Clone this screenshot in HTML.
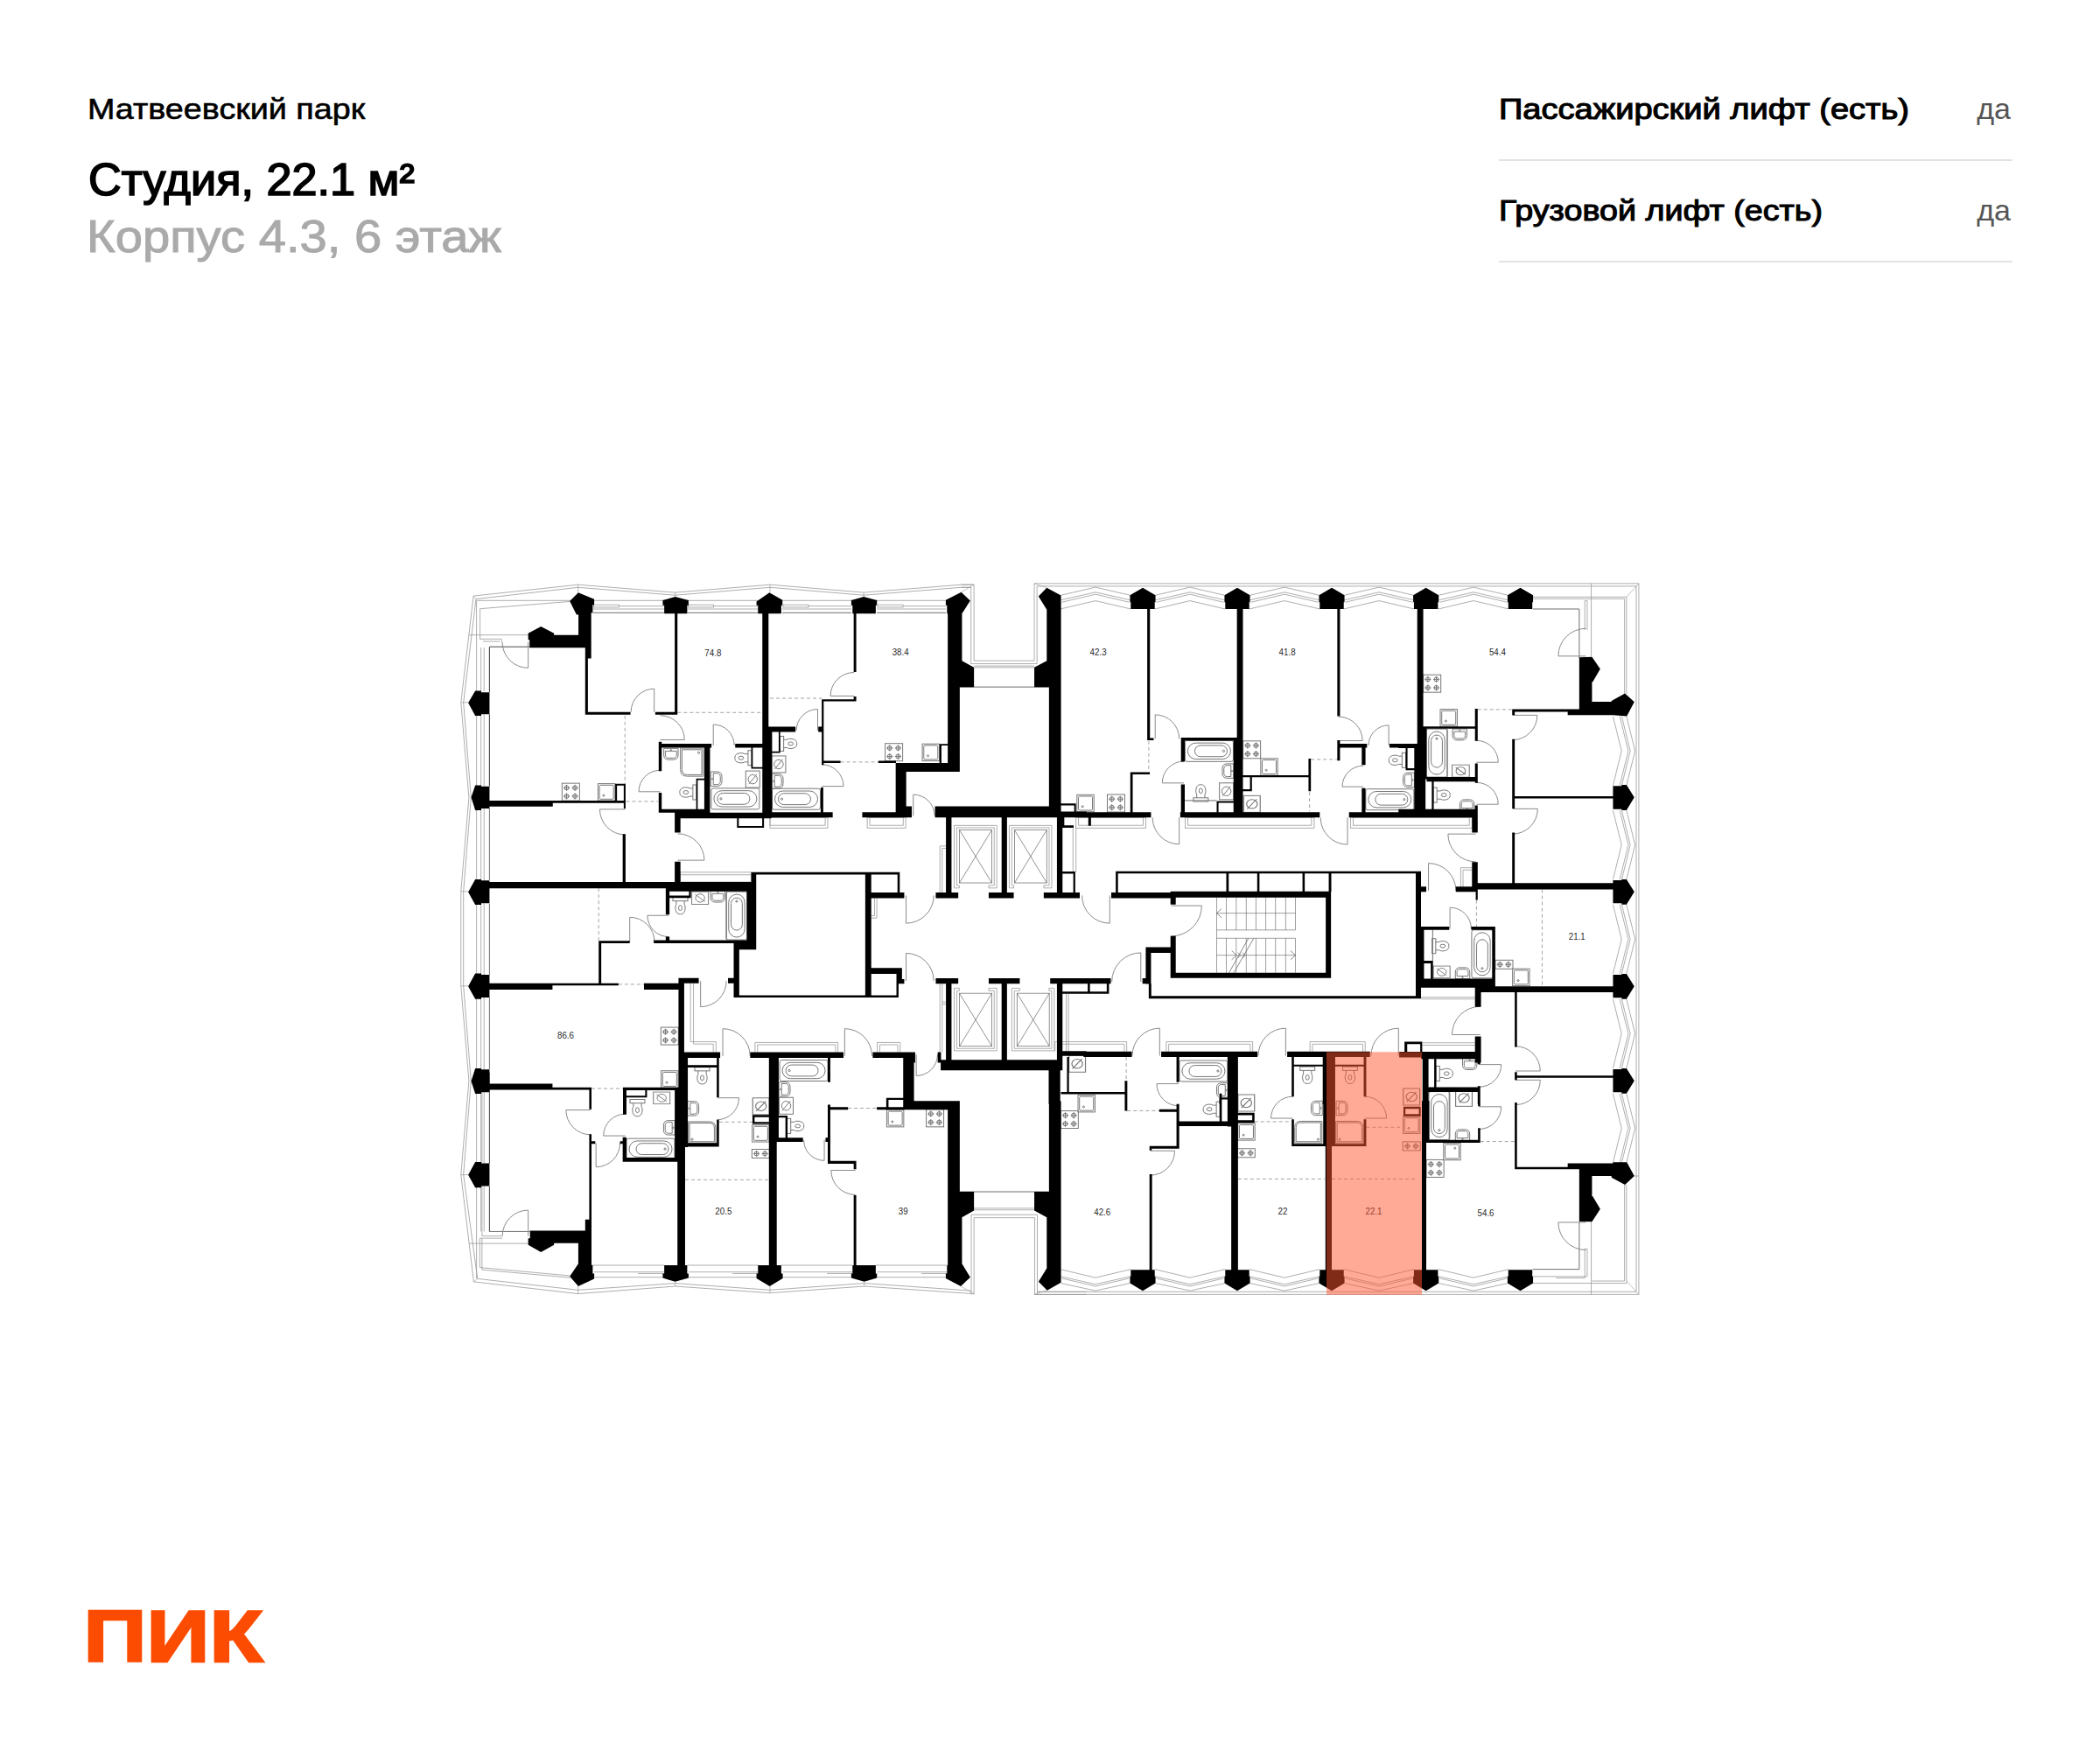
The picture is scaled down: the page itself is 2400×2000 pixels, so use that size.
<!DOCTYPE html>
<html lang="ru">
<head>
<meta charset="utf-8">
<title>Матвеевский парк — Студия, 22.1 м²</title>
<style>
html,body{margin:0;padding:0;background:#fff;}
body{width:2400px;height:2000px;position:relative;overflow:hidden;font-family:"Liberation Sans",sans-serif;color:#000;}
.t{position:absolute;white-space:nowrap;line-height:1;transform-origin:0 0;}
#proj{left:100px;top:107px;font-size:34px;font-weight:400;-webkit-text-stroke:0.6px #000;transform:scaleX(1.109);}
#title{left:101px;top:179px;font-size:52px;font-weight:400;-webkit-text-stroke:1.7px #000;transform:scaleX(1.004);}
#sub{left:99px;top:244px;font-size:52px;font-weight:400;color:#aaa;-webkit-text-stroke:1px #aaa;transform:scaleX(1.08);}
.row{position:absolute;left:1713px;width:587px;height:116px;border-bottom:2px solid #e2e2e2;box-sizing:border-box;}
.row .k{position:absolute;left:0;top:40px;font-size:33px;font-weight:400;-webkit-text-stroke:1.1px #000;transform:scaleX(1.153);line-height:1;white-space:nowrap;transform-origin:0 0;}
.row .v{position:absolute;right:2px;top:39px;font-size:34px;color:#555;line-height:1;}
#r1{top:68px;}
#r2{top:184px;}
#logo{position:absolute;left:100px;top:1840px;}
</style>
</head>
<body>
<div id="proj" class="t">Матвеевский парк</div>
<div id="title" class="t">Студия, 22.1 м²</div>
<div id="sub" class="t">Корпус 4.3, 6 этаж</div>
<div id="r1" class="row"><span class="k">Пассажирский лифт (есть)</span><span class="v">да</span></div>
<div id="r2" class="row"><span class="k" style="transform:scaleX(1.141)">Грузовой лифт (есть)</span><span class="v">да</span></div>
<svg width="2400" height="2000" viewBox="0 0 2400 2000" style="position:absolute;left:0;top:0" font-family="'Liberation Sans', sans-serif">
<defs>
<g id="stove"><rect x="-10" y="-10" width="20" height="20"/><circle cx="-4.8" cy="-4.8" r="2.5"/><circle cx="4.8" cy="-4.8" r="2.5"/><circle cx="-4.8" cy="4.8" r="2.5"/><circle cx="4.8" cy="4.8" r="2.5"/><path d="M-8.3,-4.8h7M1.3,-4.8h7M-8.3,4.8h7M1.3,4.8h7M-4.8,-8.3v7M4.8,-8.3v7M-4.8,1.3v7M4.8,1.3v7"/></g>
<g id="stove2"><rect x="-10" y="-5" width="20" height="10"/><circle cx="-4.8" cy="0" r="2.5"/><circle cx="4.8" cy="0" r="2.5"/><path d="M-8.3,0h7M1.3,0h7M-4.8,-3.5v7M4.8,-3.5v7"/></g>
<g id="ksink"><rect x="-9.7" y="-9.7" width="19.4" height="19.4"/><rect x="-8" y="-8" width="16" height="16" rx="1.2"/><circle cx="-3.3" cy="3.8" r="1"/></g>
<g id="washer"><rect x="-8" y="-9.5" width="16" height="19"/><circle cx="0" cy="0" r="5.2"/><path d="M-4.6,5.6L4.6,-5.6"/></g>
<g id="toilet"><rect x="-8.5" y="-10" width="17" height="4.2"/><path d="M-4.6,-5.8V-2C-6.2,0.5 -6,4.6 -4.2,7.4C-2.6,9.9 2.6,9.9 4.2,7.4C6,4.6 6.2,0.5 4.6,-2V-5.8"/><ellipse cx="0" cy="2.2" rx="2" ry="2.9"/></g>
<g id="sink"><path d="M-8.2,-6.4H8.2V1.2C8.2,4.6 6,6.4 3,6.4H-3C-6,6.4 -8.2,4.6 -8.2,1.2Z"/><path d="M-6.4,-3.4H6.4V1C6.4,3.4 4.8,4.6 2.6,4.6H-2.6C-4.8,4.6 -6.4,3.4 -6.4,1Z"/><circle cx="0" cy="-4.6" r="0.7"/></g>
<g id="bath"><rect x="-27.5" y="-12" width="55" height="24" rx="2.2"/><rect x="-24.5" y="-9.2" width="49" height="18.4" rx="9.2"/><rect x="-20.5" y="-6.4" width="37" height="12.8" rx="6.4"/><circle cx="-16.5" cy="0" r="1.1"/></g>
</defs>

<g fill="none" stroke-linecap="butt" stroke-linejoin="miter">
<polyline points="605.2,739.2 559.43,739.2 559.43,791.14" stroke="#4a4a4a" stroke-width="1.0"/>
<polyline points="559.43,816.34 559.43,898.63" stroke="#4a4a4a" stroke-width="1.0"/>
<polyline points="714.23,817.71 714.23,895.71" stroke="#4a4a4a" stroke-width="1.0" stroke-dasharray="4 3" stroke-opacity="0.5"/>
<polyline points="774.23,814.29 869.71,814.29" stroke="#4a4a4a" stroke-width="1.0" stroke-dasharray="4 3" stroke-opacity="0.5"/>
<polyline points="715.43,915.94 752.29,915.94" stroke="#4a4a4a" stroke-width="1.0" stroke-dasharray="4 3" stroke-opacity="0.5"/>
<path d="M603.66,733.71 L603.66,763.37 A29.66,29.66 0 0 1 574.0,733.71" stroke="#8a8a8a" stroke-width="1.0"/>
<path d="M747.66,813.77 L747.66,787.2 A26.57,26.57 0 0 0 721.09,813.77" stroke="#8a8a8a" stroke-width="1.0"/>
<path d="M754.51,845.49 L782.29,845.49 A27.78,27.78 0 0 0 754.51,817.71" stroke="#8a8a8a" stroke-width="1.0"/>
<path d="M815.2,852.0 L815.2,828.0 A24.0,24.0 0 0 1 839.2,852.0" stroke="#8a8a8a" stroke-width="1.0"/>
<path d="M754.51,904.8 L730.0,904.8 A24.51,24.51 0 0 1 754.51,880.29" stroke="#8a8a8a" stroke-width="1.0"/>
<path d="M714.57,924.86 L685.43,924.86 A29.14,29.14 0 0 0 714.57,954.0" stroke="#8a8a8a" stroke-width="1.0"/>
<path d="M777.66,855.09 H803.71 V887.14 H785.37 Q777.66,887.14 777.66,879.43 Z" stroke="#777" stroke-width="1"/>
<path d="M779.37,856.8 H802.0 V885.43 H785.37 Q779.37,885.43 779.37,879.43 Z" stroke="#777" stroke-width="1"/>
<circle cx="798.57" cy="860.23" r="1.1" stroke="#777" stroke-width="1"/>
<path d="M976.0,795.43 L949.09,795.43 A26.91,26.91 0 0 1 976.0,768.52" stroke="#8a8a8a" stroke-width="1.0"/>
<path d="M934.51,834.86 L934.51,810.51 A24.35,24.35 0 0 0 910.16,834.86" stroke="#8a8a8a" stroke-width="1.0"/>
<path d="M939.14,898.63 L964.0,898.63 A24.86,24.86 0 0 0 939.14,873.77" stroke="#8a8a8a" stroke-width="1.0"/>
<path d="M1043.71,932.57 L1043.71,908.06 A24.51,24.51 0 0 1 1068.22,932.57" stroke="#8a8a8a" stroke-width="1.0"/>
<polyline points="880.0,798.0 939.14,798.0" stroke="#4a4a4a" stroke-width="1.0" stroke-dasharray="4 3" stroke-opacity="0.5"/>
<polyline points="960.57,870.86 1003.77,870.86" stroke="#4a4a4a" stroke-width="1.0" stroke-dasharray="4 3" stroke-opacity="0.5"/>
<polyline points="1098.57,668.23 1113.14,668.23 1113.14,755.14 1182.06,755.14 1182.06,666.86" stroke="#999" stroke-width="0.8"/>
<polyline points="1098.57,671.31 1109.71,671.31 1109.71,758.57 1185.14,758.57 1185.14,669.94" stroke="#999" stroke-width="0.8"/>
<polyline points="1113.14,762.86 1182.06,762.86" stroke="#999" stroke-width="0.8"/>
<polyline points="1113.14,761.14 1182.06,761.14" stroke="#999" stroke-width="0.8"/>
<polyline points="1096.86,785.14 1198.86,785.14" stroke="#4a4a4a" stroke-width="0.8"/>
<polyline points="1098.57,676.8 1113.14,668.23" stroke="#999" stroke-width="0.6"/>
<polyline points="1196.29,671.66 1182.06,666.86" stroke="#999" stroke-width="0.6"/>
<rect x="880.0" y="934.29" width="66.0" height="12.0" fill="none" stroke="#999" stroke-width="0.8"/>
<rect x="880.0" y="934.29" width="63.09" height="8.91" fill="none" stroke="#999" stroke-width="0.8"/>
<rect x="991.09" y="934.29" width="44.05" height="12.0" fill="none" stroke="#999" stroke-width="0.8"/>
<rect x="994.0" y="934.29" width="38.23" height="8.91" fill="none" stroke="#999" stroke-width="0.8"/>
<polyline points="1212.57,680.23 1252.0,671.14 1291.43,680.23" stroke="#777" stroke-width="0.6"/>
<polyline points="1212.57,685.71 1252.0,676.8 1291.43,685.71" stroke="#777" stroke-width="0.6"/>
<polyline points="1213.43,688.29 1252.0,679.2 1290.57,688.29" stroke="#777" stroke-width="0.6"/>
<polyline points="1211.71,696.0 1252.0,686.57 1292.29,696.0" stroke="#777" stroke-width="0.6"/>
<polyline points="1320.57,680.23 1360.0,671.14 1399.43,680.23" stroke="#777" stroke-width="0.6"/>
<polyline points="1320.57,685.71 1360.0,676.8 1399.43,685.71" stroke="#777" stroke-width="0.6"/>
<polyline points="1321.43,688.29 1360.0,679.2 1398.57,688.29" stroke="#777" stroke-width="0.6"/>
<polyline points="1319.71,696.0 1360.0,686.57 1400.29,696.0" stroke="#777" stroke-width="0.6"/>
<polyline points="1428.57,680.23 1468.0,671.14 1507.43,680.23" stroke="#777" stroke-width="0.6"/>
<polyline points="1428.57,685.71 1468.0,676.8 1507.43,685.71" stroke="#777" stroke-width="0.6"/>
<polyline points="1429.43,688.29 1468.0,679.2 1506.57,688.29" stroke="#777" stroke-width="0.6"/>
<polyline points="1427.71,696.0 1468.0,686.57 1508.29,696.0" stroke="#777" stroke-width="0.6"/>
<polyline points="1536.57,680.23 1576.0,671.14 1615.43,680.23" stroke="#777" stroke-width="0.6"/>
<polyline points="1536.57,685.71 1576.0,676.8 1615.43,685.71" stroke="#777" stroke-width="0.6"/>
<polyline points="1537.43,688.29 1576.0,679.2 1614.57,688.29" stroke="#777" stroke-width="0.6"/>
<polyline points="1535.71,696.0 1576.0,686.57 1616.29,696.0" stroke="#777" stroke-width="0.6"/>
<polyline points="1644.57,680.23 1684.0,671.14 1723.43,680.23" stroke="#777" stroke-width="0.6"/>
<polyline points="1644.57,685.71 1684.0,676.8 1723.43,685.71" stroke="#777" stroke-width="0.6"/>
<polyline points="1645.43,688.29 1684.0,679.2 1722.57,688.29" stroke="#777" stroke-width="0.6"/>
<polyline points="1643.71,696.0 1684.0,686.57 1724.29,696.0" stroke="#777" stroke-width="0.6"/>
<path d="M1320.23,844.29 L1320.23,816.86 A27.43,27.43 0 0 1 1347.66,844.29" stroke="#8a8a8a" stroke-width="1.0"/>
<path d="M1353.14,894.86 L1328.29,894.86 A24.85,24.85 0 0 1 1353.14,870.01" stroke="#8a8a8a" stroke-width="1.0"/>
<path d="M1347.66,934.29 L1347.66,964.8 A30.51,30.51 0 0 1 1317.15,934.29" stroke="#8a8a8a" stroke-width="1.0"/>
<path d="M1529.71,846.51 L1557.14,846.51 A27.43,27.43 0 0 0 1529.71,819.08" stroke="#8a8a8a" stroke-width="1.0"/>
<path d="M1587.14,852.0 L1587.14,828.86 A23.14,23.14 0 0 0 1564.0,852.0" stroke="#8a8a8a" stroke-width="1.0"/>
<path d="M1558.0,899.14 L1534.0,899.14 A24.0,24.0 0 0 1 1558.0,875.14" stroke="#8a8a8a" stroke-width="1.0"/>
<path d="M1540.0,934.29 L1540.0,965.14 A30.85,30.85 0 0 1 1509.15,934.29" stroke="#8a8a8a" stroke-width="1.0"/>
<polyline points="1354.0,914.91 1390.51,914.91" stroke="#4a4a4a" stroke-width="0.8"/>
<polyline points="1312.86,846.86 1312.86,882.51" stroke="#4a4a4a" stroke-width="1.0" stroke-dasharray="4 3" stroke-opacity="0.5"/>
<polyline points="1498.17,867.94 1528.34,867.94" stroke="#4a4a4a" stroke-width="1.0" stroke-dasharray="4 3" stroke-opacity="0.5"/>
<polyline points="1496.63,905.14 1496.63,927.43" stroke="#4a4a4a" stroke-width="1.0" stroke-dasharray="4 3" stroke-opacity="0.5"/>
<rect x="1229.71" y="934.29" width="79.72" height="12.0" fill="none" stroke="#999" stroke-width="0.8"/>
<rect x="1232.63" y="934.29" width="73.88" height="8.91" fill="none" stroke="#999" stroke-width="0.8"/>
<polyline points="1226.29,946.11 1226.29,996.86" stroke="#999" stroke-width="0.8"/>
<polyline points="1229.71,946.11 1229.71,996.86" stroke="#999" stroke-width="0.8"/>
<rect x="1354.51" y="934.29" width="147.43" height="12.0" fill="none" stroke="#999" stroke-width="0.8"/>
<rect x="1357.43" y="934.29" width="141.43" height="8.91" fill="none" stroke="#999" stroke-width="0.8"/>
<polyline points="1182.06,666.86 1872.91,666.86 1872.91,1479.43" stroke="#999" stroke-width="0.8"/>
<polyline points="1185.14,669.94 1870.0,669.94 1870.0,1476.34" stroke="#999" stroke-width="0.8"/>
<polyline points="1872.91,666.86 1858.86,682.29" stroke="#999" stroke-width="0.6"/>
<polyline points="1751.71,682.29 1858.86,682.29 1858.86,792.86" stroke="#999" stroke-width="0.8"/>
<polyline points="1751.71,684.34 1856.63,684.34 1856.63,792.86" stroke="#999" stroke-width="0.8"/>
<polyline points="1818.57,666.86 1818.57,750.34" stroke="#999" stroke-width="0.8"/>
<polyline points="1751.71,696.0 1804.86,696.0 1804.86,752.06" stroke="#4a4a4a" stroke-width="0.8"/>
<polyline points="1811.2,720.0 1811.2,686.57 1813.94,686.57 1813.94,720.0" stroke="#999" stroke-width="0.8"/>
<polyline points="1843.43,818.57 1853.2,858.17 1843.43,897.77" stroke="#777" stroke-width="0.6"/>
<polyline points="1851.14,818.57 1860.91,858.17 1851.14,897.77" stroke="#777" stroke-width="0.6"/>
<polyline points="1853.37,818.57 1863.14,858.17 1853.37,897.77" stroke="#777" stroke-width="0.6"/>
<polyline points="1858.86,818.57 1868.63,858.17 1858.86,897.77" stroke="#777" stroke-width="0.6"/>
<path d="M1812.4,749.83 L1780.86,749.83 A31.54,31.54 0 0 1 1812.4,718.29" stroke="#8a8a8a" stroke-width="1.0"/>
<path d="M1687.43,871.2 L1712.29,871.2 A24.86,24.86 0 0 0 1687.43,846.34" stroke="#8a8a8a" stroke-width="1.0"/>
<path d="M1687.43,919.2 L1712.29,919.2 A24.86,24.86 0 0 0 1687.43,894.34" stroke="#8a8a8a" stroke-width="1.0"/>
<path d="M1728.57,817.37 L1756.86,817.37 A28.29,28.29 0 0 1 1728.57,845.66" stroke="#8a8a8a" stroke-width="1.0"/>
<path d="M1728.57,924.34 L1757.37,924.34 A28.8,28.8 0 0 1 1728.57,953.14" stroke="#8a8a8a" stroke-width="1.0"/>
<polyline points="1654.0,833.14 1654.0,888.0" stroke="#4a4a4a" stroke-width="0.8"/>
<polyline points="1688.8,810.86 1728.23,810.86" stroke="#4a4a4a" stroke-width="1.0" stroke-dasharray="4 3" stroke-opacity="0.5"/>
<rect x="1543.43" y="934.29" width="138.86" height="12.0" fill="none" stroke="#999" stroke-width="0.8"/>
<rect x="1546.51" y="934.29" width="132.69" height="8.91" fill="none" stroke="#999" stroke-width="0.8"/>
<rect x="777.66" y="996.86" width="80.91" height="11.14" fill="none" stroke="#999" stroke-width="0.8"/>
<polyline points="777.66,999.77 858.57,999.77" stroke="#999" stroke-width="0.8"/>
<polyline points="789.14,1123.71 789.14,1190.57 818.29,1190.57 818.29,1202.57" stroke="#999" stroke-width="0.8"/>
<polyline points="792.57,1123.71 792.57,1193.14 815.2,1193.14 815.2,1202.57" stroke="#999" stroke-width="0.8"/>
<polyline points="684.23,1015.2 684.23,1075.2" stroke="#4a4a4a" stroke-width="1.0" stroke-dasharray="4 3" stroke-opacity="0.5"/>
<polyline points="706.86,1124.91 736.0,1124.91" stroke="#4a4a4a" stroke-width="1.0" stroke-dasharray="4 3" stroke-opacity="0.5"/>
<polyline points="676.0,1244.06 712.0,1244.06" stroke="#4a4a4a" stroke-width="1.0" stroke-dasharray="4 3" stroke-opacity="0.5"/>
<path d="M774.57,983.14 L804.91,983.14 A30.34,30.34 0 0 0 774.57,952.8" stroke="#8a8a8a" stroke-width="1.0"/>
<path d="M719.71,1076.57 L719.71,1048.29 A28.28,28.28 0 0 1 747.99,1076.57" stroke="#8a8a8a" stroke-width="1.0"/>
<path d="M764.29,1046.23 L739.94,1046.23 A24.35,24.35 0 0 0 764.29,1070.58" stroke="#8a8a8a" stroke-width="1.0"/>
<path d="M800.63,1121.14 L800.63,1150.63 A29.49,29.49 0 0 0 830.12,1121.14" stroke="#8a8a8a" stroke-width="1.0"/>
<path d="M826.0,1206.86 L826.0,1175.66 A31.2,31.2 0 0 1 857.2,1206.86" stroke="#8a8a8a" stroke-width="1.0"/>
<polyline points="830.29,1019.14 830.29,1074.0" stroke="#4a4a4a" stroke-width="0.8"/>
<polyline points="1096.34,1014.86 1090.51,1014.86 1090.51,943.37 1139.2,943.37 1139.2,1014.86 1129.94,1014.86" stroke="#999" stroke-width="0.8"/>
<polyline points="1096.34,1011.94 1093.43,1011.94 1093.43,945.94 1136.29,945.94 1136.29,1011.94 1129.94,1011.94" stroke="#999" stroke-width="0.8"/>
<polyline points="1096.34,1014.86 1096.34,1011.94" stroke="#999" stroke-width="0.8"/>
<polyline points="1129.94,1014.86 1129.94,1011.94" stroke="#999" stroke-width="0.8"/>
<rect x="1096.51" y="948.51" width="37.03" height="60.52" fill="none" stroke="#4a4a4a" stroke-width="0.8" stroke-opacity="0.75"/>
<polyline points="1096.51,948.51 1133.54,1009.03" stroke="#4a4a4a" stroke-width="0.8" stroke-opacity="0.75"/>
<polyline points="1096.51,1009.03 1133.54,948.51" stroke="#4a4a4a" stroke-width="0.8" stroke-opacity="0.75"/>
<polyline points="1158.57,1014.86 1153.43,1014.86 1153.43,943.37 1201.94,943.37 1201.94,1014.86 1192.86,1014.86" stroke="#999" stroke-width="0.8"/>
<polyline points="1158.57,1011.94 1156.34,1011.94 1156.34,945.94 1199.03,945.94 1199.03,1011.94 1192.86,1011.94" stroke="#999" stroke-width="0.8"/>
<polyline points="1158.57,1014.86 1158.57,1011.94" stroke="#999" stroke-width="0.8"/>
<polyline points="1192.86,1014.86 1192.86,1011.94" stroke="#999" stroke-width="0.8"/>
<rect x="1159.43" y="948.51" width="36.86" height="60.52" fill="none" stroke="#4a4a4a" stroke-width="0.8" stroke-opacity="0.75"/>
<polyline points="1159.43,948.51 1196.29,1009.03" stroke="#4a4a4a" stroke-width="0.8" stroke-opacity="0.75"/>
<polyline points="1159.43,1009.03 1196.29,948.51" stroke="#4a4a4a" stroke-width="0.8" stroke-opacity="0.75"/>
<polyline points="1096.34,1129.37 1090.51,1129.37 1090.51,1200.86 1139.2,1200.86 1139.2,1129.37 1129.94,1129.37" stroke="#999" stroke-width="0.8"/>
<polyline points="1096.34,1132.29 1093.43,1132.29 1093.43,1198.29 1136.29,1198.29 1136.29,1132.29 1129.94,1132.29" stroke="#999" stroke-width="0.8"/>
<polyline points="1096.34,1129.37 1096.34,1132.29" stroke="#999" stroke-width="0.8"/>
<polyline points="1129.94,1129.37 1129.94,1132.29" stroke="#999" stroke-width="0.8"/>
<rect x="1096.51" y="1135.2" width="37.03" height="60.51" fill="none" stroke="#4a4a4a" stroke-width="0.8" stroke-opacity="0.75"/>
<polyline points="1096.51,1135.2 1133.54,1195.71" stroke="#4a4a4a" stroke-width="0.8" stroke-opacity="0.75"/>
<polyline points="1096.51,1195.71 1133.54,1135.2" stroke="#4a4a4a" stroke-width="0.8" stroke-opacity="0.75"/>
<polyline points="1165.43,1129.37 1156.34,1129.37 1156.34,1200.86 1204.86,1200.86 1204.86,1129.37 1198.86,1129.37" stroke="#999" stroke-width="0.8"/>
<polyline points="1165.43,1132.29 1159.26,1132.29 1159.26,1198.29 1201.94,1198.29 1201.94,1132.29 1198.86,1132.29" stroke="#999" stroke-width="0.8"/>
<polyline points="1165.43,1129.37 1165.43,1132.29" stroke="#999" stroke-width="0.8"/>
<polyline points="1198.86,1129.37 1198.86,1132.29" stroke="#999" stroke-width="0.8"/>
<rect x="1162.34" y="1135.2" width="36.86" height="60.51" fill="none" stroke="#4a4a4a" stroke-width="0.8" stroke-opacity="0.75"/>
<polyline points="1162.34,1135.2 1199.2,1195.71" stroke="#4a4a4a" stroke-width="0.8" stroke-opacity="0.75"/>
<polyline points="1162.34,1195.71 1199.2,1135.2" stroke="#4a4a4a" stroke-width="0.8" stroke-opacity="0.75"/>
<polyline points="1074.23,1020.0 1074.23,966.86 1081.09,966.86" stroke="#999" stroke-width="0.8"/>
<polyline points="1076.8,1020.0 1076.8,969.43 1081.09,969.43" stroke="#999" stroke-width="0.8"/>
<polyline points="1074.23,1124.23 1074.23,1202.57" stroke="#999" stroke-width="0.8"/>
<polyline points="1076.8,1124.23 1076.8,1202.57" stroke="#999" stroke-width="0.8"/>
<polyline points="1076.8,1147.71 1081.09,1147.71" stroke="#999" stroke-width="0.8"/>
<polyline points="1076.8,1145.14 1081.09,1145.14" stroke="#999" stroke-width="0.8"/>
<polyline points="995.71,1049.14 1002.06,1049.14 1002.06,1026.51" stroke="#999" stroke-width="0.8"/>
<polyline points="995.71,1046.57 999.49,1046.57 999.49,1026.51" stroke="#999" stroke-width="0.8"/>
<polyline points="862.86,1202.57 862.86,1191.43 957.66,1191.43 957.66,1202.57" stroke="#999" stroke-width="0.8"/>
<polyline points="865.77,1202.57 865.77,1194.0 954.91,1194.0 954.91,1202.57" stroke="#999" stroke-width="0.8"/>
<polyline points="1002.57,1202.57 1002.57,1191.43 1028.8,1191.43 1028.8,1202.57" stroke="#999" stroke-width="0.8"/>
<polyline points="1005.49,1202.57 1005.49,1194.0 1026.06,1194.0 1026.06,1202.57" stroke="#999" stroke-width="0.8"/>
<polyline points="1218.57,1135.71 1218.57,1201.37" stroke="#999" stroke-width="0.8"/>
<polyline points="1221.14,1135.71 1221.14,1201.37" stroke="#999" stroke-width="0.8"/>
<path d="M1035.49,1023.43 L1035.49,1055.14 A31.71,31.71 0 0 0 1067.2,1023.43" stroke="#8a8a8a" stroke-width="1.0"/>
<path d="M1035.49,1121.14 L1035.49,1089.43 A31.71,31.71 0 0 1 1067.2,1121.14" stroke="#8a8a8a" stroke-width="1.0"/>
<path d="M965.37,1206.86 L965.37,1175.66 A31.2,31.2 0 0 1 996.57,1206.86" stroke="#8a8a8a" stroke-width="1.0"/>
<path d="M1047.14,1205.14 L1047.14,1229.49 A24.35,24.35 0 0 0 1071.49,1205.14" stroke="#8a8a8a" stroke-width="1.0"/>
<polyline points="1390.51,1025.66 1390.51,1062.86" stroke="#555" stroke-width="0.7" stroke-opacity="0.8"/>
<polyline points="1390.51,1072.29 1390.51,1111.71" stroke="#555" stroke-width="0.7" stroke-opacity="0.8"/>
<polyline points="1401.49,1025.66 1401.49,1062.86" stroke="#555" stroke-width="0.7" stroke-opacity="0.8"/>
<polyline points="1401.49,1072.29 1401.49,1111.71" stroke="#555" stroke-width="0.7" stroke-opacity="0.8"/>
<polyline points="1412.8,1025.66 1412.8,1062.86" stroke="#555" stroke-width="0.7" stroke-opacity="0.8"/>
<polyline points="1412.8,1072.29 1412.8,1111.71" stroke="#555" stroke-width="0.7" stroke-opacity="0.8"/>
<polyline points="1424.29,1025.66 1424.29,1062.86" stroke="#555" stroke-width="0.7" stroke-opacity="0.8"/>
<polyline points="1424.29,1072.29 1424.29,1111.71" stroke="#555" stroke-width="0.7" stroke-opacity="0.8"/>
<polyline points="1435.43,1025.66 1435.43,1062.86" stroke="#555" stroke-width="0.7" stroke-opacity="0.8"/>
<polyline points="1435.43,1072.29 1435.43,1111.71" stroke="#555" stroke-width="0.7" stroke-opacity="0.8"/>
<polyline points="1446.57,1025.66 1446.57,1062.86" stroke="#555" stroke-width="0.7" stroke-opacity="0.8"/>
<polyline points="1446.57,1072.29 1446.57,1111.71" stroke="#555" stroke-width="0.7" stroke-opacity="0.8"/>
<polyline points="1457.71,1025.66 1457.71,1062.86" stroke="#555" stroke-width="0.7" stroke-opacity="0.8"/>
<polyline points="1457.71,1072.29 1457.71,1111.71" stroke="#555" stroke-width="0.7" stroke-opacity="0.8"/>
<polyline points="1469.37,1025.66 1469.37,1062.86" stroke="#555" stroke-width="0.7" stroke-opacity="0.8"/>
<polyline points="1469.37,1072.29 1469.37,1111.71" stroke="#555" stroke-width="0.7" stroke-opacity="0.8"/>
<polyline points="1480.51,1025.66 1480.51,1062.86" stroke="#555" stroke-width="0.7" stroke-opacity="0.8"/>
<polyline points="1480.51,1072.29 1480.51,1111.71" stroke="#555" stroke-width="0.7" stroke-opacity="0.8"/>
<polyline points="1390.51,1062.86 1390.51,1072.29" stroke="#555" stroke-width="0.7" stroke-opacity="0.8"/>
<polyline points="1390.51,1043.66 1480.51,1043.66" stroke="#555" stroke-width="0.7" stroke-opacity="0.8"/>
<polyline points="1390.51,1062.86 1480.51,1062.86" stroke="#555" stroke-width="0.7" stroke-opacity="0.8"/>
<polyline points="1390.51,1072.29 1480.51,1072.29" stroke="#555" stroke-width="0.7" stroke-opacity="0.8"/>
<polyline points="1390.51,1091.66 1480.51,1091.66" stroke="#555" stroke-width="0.7" stroke-opacity="0.8"/>
<polyline points="1426.86,1072.29 1404.57,1111.71" stroke="#555" stroke-width="0.7"/>
<polyline points="1432.86,1072.29 1410.06,1111.71" stroke="#555" stroke-width="0.7"/>
<polyline points="1396.0,1038.51 1390.51,1043.66 1396.0,1048.8" stroke="#555" stroke-width="0.7"/>
<polyline points="1474.86,1086.51 1480.51,1091.66 1474.86,1096.8" stroke="#555" stroke-width="0.7"/>
<polyline points="1407.66,1086.51 1413.14,1091.66 1407.66,1096.8" stroke="#555" stroke-width="0.7"/>
<polyline points="1414.86,1088.57 1417.94,1091.66 1414.86,1094.74" stroke="#555" stroke-width="0.7"/>
<polyline points="1420.0,1088.57 1423.09,1091.66 1420.0,1094.74" stroke="#555" stroke-width="0.7"/>
<polyline points="1205.71,1201.71 1205.71,1190.57 1287.66,1190.57 1287.66,1201.71" stroke="#999" stroke-width="0.8"/>
<polyline points="1208.46,1201.71 1208.46,1193.31 1284.91,1193.31 1284.91,1201.71" stroke="#999" stroke-width="0.8"/>
<polyline points="1332.91,1201.71 1332.91,1190.57 1431.66,1190.57 1431.66,1201.71" stroke="#999" stroke-width="0.8"/>
<polyline points="1335.66,1201.71 1335.66,1193.31 1428.91,1193.31 1428.91,1201.71" stroke="#999" stroke-width="0.8"/>
<polyline points="1497.14,1201.71 1497.14,1190.57 1560.23,1190.57 1560.23,1201.71" stroke="#999" stroke-width="0.8"/>
<polyline points="1499.89,1201.71 1499.89,1193.31 1557.49,1193.31 1557.49,1201.71" stroke="#999" stroke-width="0.8"/>
<polyline points="1287.14,1208.06 1287.14,1235.14" stroke="#4a4a4a" stroke-width="1.0" stroke-dasharray="4 3" stroke-opacity="0.5"/>
<path d="M1268.29,1023.43 L1268.29,1055.14 A31.71,31.71 0 0 1 1236.58,1023.43" stroke="#8a8a8a" stroke-width="1.0"/>
<path d="M1338.57,1035.09 L1373.37,1035.09 A34.8,34.8 0 0 1 1338.57,1069.89" stroke="#8a8a8a" stroke-width="1.0"/>
<path d="M1303.77,1122.0 L1303.77,1088.91 A33.09,33.09 0 0 0 1270.68,1122.0" stroke="#8a8a8a" stroke-width="1.0"/>
<path d="M1325.37,1206.51 L1325.37,1175.14 A31.37,31.37 0 0 0 1294.0,1206.51" stroke="#8a8a8a" stroke-width="1.0"/>
<path d="M1469.37,1206.51 L1469.37,1175.14 A31.37,31.37 0 0 0 1438.0,1206.51" stroke="#8a8a8a" stroke-width="1.0"/>
<path d="M1598.29,1206.51 L1598.29,1175.14 A31.37,31.37 0 0 0 1566.92,1206.51" stroke="#8a8a8a" stroke-width="1.0"/>
<path d="M1347.14,1238.57 L1321.94,1238.57 A25.2,25.2 0 0 0 1347.14,1263.77" stroke="#8a8a8a" stroke-width="1.0"/>
<polyline points="1637.37,1062.86 1637.37,1098.0" stroke="#4a4a4a" stroke-width="0.8"/>
<polyline points="1669.43,1013.14 1669.43,991.71 1682.29,991.71" stroke="#999" stroke-width="0.8"/>
<polyline points="1672.0,1013.14 1672.0,994.29 1682.29,994.29" stroke="#999" stroke-width="0.8"/>
<polyline points="1624.0,1139.66 1685.71,1139.66" stroke="#999" stroke-width="0.8"/>
<polyline points="1624.0,1141.71 1685.71,1141.71" stroke="#999" stroke-width="0.8"/>
<polyline points="1625.71,1191.77 1685.71,1191.77" stroke="#999" stroke-width="0.8"/>
<polyline points="1625.71,1194.51 1685.71,1194.51" stroke="#999" stroke-width="0.8"/>
<polyline points="1687.43,1028.57 1687.43,1059.09" stroke="#4a4a4a" stroke-width="1.0" stroke-dasharray="4 3" stroke-opacity="0.5"/>
<polyline points="1762.51,1016.57 1762.51,1127.14" stroke="#4a4a4a" stroke-width="1.0" stroke-dasharray="4 3" stroke-opacity="0.5"/>
<polyline points="1843.43,926.06 1853.2,965.66 1843.43,1005.26" stroke="#777" stroke-width="0.6"/>
<polyline points="1851.14,926.06 1860.91,965.66 1851.14,1005.26" stroke="#777" stroke-width="0.6"/>
<polyline points="1853.37,926.06 1863.14,965.66 1853.37,1005.26" stroke="#777" stroke-width="0.6"/>
<polyline points="1858.86,926.06 1868.63,965.66 1858.86,1005.26" stroke="#777" stroke-width="0.6"/>
<polyline points="1843.43,1033.71 1853.2,1073.31 1843.43,1112.91" stroke="#777" stroke-width="0.6"/>
<polyline points="1851.14,1033.71 1860.91,1073.31 1851.14,1112.91" stroke="#777" stroke-width="0.6"/>
<polyline points="1853.37,1033.71 1863.14,1073.31 1853.37,1112.91" stroke="#777" stroke-width="0.6"/>
<polyline points="1858.86,1033.71 1868.63,1073.31 1858.86,1112.91" stroke="#777" stroke-width="0.6"/>
<polyline points="1843.43,1141.71 1853.2,1181.31 1843.43,1220.91" stroke="#777" stroke-width="0.6"/>
<polyline points="1851.14,1141.71 1860.91,1181.31 1851.14,1220.91" stroke="#777" stroke-width="0.6"/>
<polyline points="1853.37,1141.71 1863.14,1181.31 1853.37,1220.91" stroke="#777" stroke-width="0.6"/>
<polyline points="1858.86,1141.71 1868.63,1181.31 1858.86,1220.91" stroke="#777" stroke-width="0.6"/>
<polyline points="1843.43,1249.71 1853.2,1289.31 1843.43,1328.91" stroke="#777" stroke-width="0.6"/>
<polyline points="1851.14,1249.71 1860.91,1289.31 1851.14,1328.91" stroke="#777" stroke-width="0.6"/>
<polyline points="1853.37,1249.71 1863.14,1289.31 1853.37,1328.91" stroke="#777" stroke-width="0.6"/>
<polyline points="1858.86,1249.71 1868.63,1289.31 1858.86,1328.91" stroke="#777" stroke-width="0.6"/>
<path d="M1686.57,953.14 L1654.86,953.14 A31.71,31.71 0 0 0 1686.57,984.85" stroke="#8a8a8a" stroke-width="1.0"/>
<path d="M1632.57,1017.94 L1632.57,986.57 A31.37,31.37 0 0 1 1663.94,1017.94" stroke="#8a8a8a" stroke-width="1.0"/>
<path d="M1657.09,1061.49 L1657.09,1037.14 A24.35,24.35 0 0 1 1681.44,1061.49" stroke="#8a8a8a" stroke-width="1.0"/>
<path d="M1691.71,1182.51 L1659.49,1182.51 A32.22,32.22 0 0 1 1691.71,1150.29" stroke="#8a8a8a" stroke-width="1.0"/>
<path d="M1732.0,1224.0 L1760.29,1224.0 A28.29,28.29 0 0 0 1732.0,1195.71" stroke="#8a8a8a" stroke-width="1.0"/>
<path d="M1732.0,1234.29 L1760.29,1234.29 A28.29,28.29 0 0 1 1732.0,1262.58" stroke="#8a8a8a" stroke-width="1.0"/>
<path d="M1690.0,1216.63 L1715.71,1216.63 A25.71,25.71 0 0 1 1690.0,1242.34" stroke="#8a8a8a" stroke-width="1.0"/>
<polyline points="559.43,1225.71 559.43,1329.43" stroke="#4a4a4a" stroke-width="0.8"/>
<polyline points="559.43,1356.0 559.43,1407.43 605.71,1407.43" stroke="#4a4a4a" stroke-width="0.8"/>
<polyline points="550.86,1225.71 550.86,1412.57 574.0,1412.57" stroke="#999" stroke-width="0.8"/>
<polyline points="548.29,1415.14 574.0,1415.14" stroke="#999" stroke-width="0.8"/>
<polyline points="676.0,1446.0 759.14,1446.0" stroke="#999" stroke-width="0.8"/>
<polyline points="679.09,1459.71 757.43,1459.71" stroke="#999" stroke-width="0.8"/>
<polyline points="679.09,1453.71 759.14,1453.71" stroke="#999" stroke-width="0.8"/>
<polyline points="729.14,1455.43 759.14,1455.43" stroke="#999" stroke-width="0.8"/>
<polyline points="785.37,1446.0 867.14,1446.0" stroke="#999" stroke-width="0.8"/>
<polyline points="786.91,1459.71 865.43,1459.71" stroke="#999" stroke-width="0.8"/>
<polyline points="786.91,1453.71 867.14,1453.71" stroke="#999" stroke-width="0.8"/>
<polyline points="837.14,1455.43 867.14,1455.43" stroke="#999" stroke-width="0.8"/>
<polyline points="536.29,1421.14 603.66,1421.14" stroke="#999" stroke-width="0.8"/>
<polyline points="548.29,1415.14 548.29,1448.57 651.14,1458.0" stroke="#999" stroke-width="0.8"/>
<polyline points="550.86,1415.14 550.86,1451.14 652.0,1460.23" stroke="#999" stroke-width="0.8"/>
<path d="M675.14,1268.57 L646.86,1268.57 A28.28,28.28 0 0 0 675.14,1296.85" stroke="#8a8a8a" stroke-width="1.0"/>
<path d="M714.57,1298.06 L689.71,1298.06 A24.86,24.86 0 0 1 714.57,1273.2" stroke="#8a8a8a" stroke-width="1.0"/>
<path d="M681.14,1306.29 L681.14,1333.71 A27.42,27.42 0 0 0 708.56,1306.29" stroke="#8a8a8a" stroke-width="1.0"/>
<path d="M603.66,1412.57 L603.66,1383.09 A29.48,29.48 0 0 0 574.18,1412.57" stroke="#8a8a8a" stroke-width="1.0"/>
<path d="M819.49,1254.69 L844.51,1254.69 A25.02,25.02 0 0 1 819.49,1279.71" stroke="#8a8a8a" stroke-width="1.0"/>
<polyline points="821.71,1282.29 860.29,1282.29" stroke="#4a4a4a" stroke-width="1.0" stroke-dasharray="4 3" stroke-opacity="0.5"/>
<polyline points="782.97,1348.29 880.0,1348.29" stroke="#4a4a4a" stroke-width="1.0" stroke-dasharray="4 3" stroke-opacity="0.5"/>
<polyline points="1096.86,1362.0 1198.86,1362.0" stroke="#4a4a4a" stroke-width="0.8"/>
<polyline points="1113.14,1380.86 1182.06,1380.86" stroke="#999" stroke-width="0.8"/>
<polyline points="1113.14,1382.74 1182.06,1382.74" stroke="#999" stroke-width="0.8"/>
<polyline points="1110.06,1479.43 1110.06,1388.23 1185.49,1388.23 1185.49,1479.43" stroke="#999" stroke-width="0.8"/>
<polyline points="1113.14,1479.43 1113.14,1391.66 1182.57,1391.66 1182.57,1479.43" stroke="#999" stroke-width="0.8"/>
<polyline points="1098.06,1470.0 1113.14,1478.57" stroke="#999" stroke-width="0.6"/>
<polyline points="1196.8,1474.63 1182.06,1479.43" stroke="#999" stroke-width="0.6"/>
<polyline points="892.86,1446.0 974.29,1446.0" stroke="#999" stroke-width="0.8"/>
<polyline points="894.57,1459.71 972.91,1459.71" stroke="#999" stroke-width="0.8"/>
<polyline points="894.57,1453.71 974.29,1453.71" stroke="#999" stroke-width="0.8"/>
<polyline points="945.14,1455.43 974.29,1455.43" stroke="#999" stroke-width="0.8"/>
<polyline points="1000.86,1446.0 1082.29,1446.0" stroke="#999" stroke-width="0.8"/>
<polyline points="1002.57,1459.71 1080.91,1459.71" stroke="#999" stroke-width="0.8"/>
<polyline points="1002.57,1453.71 1082.29,1453.71" stroke="#999" stroke-width="0.8"/>
<polyline points="1053.14,1455.43 1082.29,1455.43" stroke="#999" stroke-width="0.8"/>
<polyline points="1182.06,1479.43 1241.71,1479.43" stroke="#999" stroke-width="0.8"/>
<polyline points="1185.49,1476.34 1241.71,1476.34" stroke="#999" stroke-width="0.8"/>
<path d="M942.06,1302.86 L942.06,1326.34 A23.48,23.48 0 0 1 918.58,1302.86" stroke="#8a8a8a" stroke-width="1.0"/>
<path d="M977.71,1337.49 L949.77,1337.49 A27.94,27.94 0 0 0 977.71,1365.43" stroke="#8a8a8a" stroke-width="1.0"/>
<polyline points="969.14,1266.51 1002.06,1266.51" stroke="#4a4a4a" stroke-width="1.0" stroke-dasharray="4 3" stroke-opacity="0.5"/>
<polyline points="1211.71,1450.63 1252.0,1460.23 1292.29,1450.63" stroke="#777" stroke-width="0.6"/>
<polyline points="1212.57,1458.86 1252.0,1467.77 1291.43,1458.86" stroke="#777" stroke-width="0.6"/>
<polyline points="1213.43,1460.91 1252.0,1470.0 1290.57,1460.91" stroke="#777" stroke-width="0.6"/>
<polyline points="1212.57,1466.57 1252.0,1475.14 1291.43,1466.57" stroke="#777" stroke-width="0.6"/>
<polyline points="1319.71,1450.63 1360.0,1460.23 1400.29,1450.63" stroke="#777" stroke-width="0.6"/>
<polyline points="1320.57,1458.86 1360.0,1467.77 1399.43,1458.86" stroke="#777" stroke-width="0.6"/>
<polyline points="1321.43,1460.91 1360.0,1470.0 1398.57,1460.91" stroke="#777" stroke-width="0.6"/>
<polyline points="1320.57,1466.57 1360.0,1475.14 1399.43,1466.57" stroke="#777" stroke-width="0.6"/>
<polyline points="1427.71,1450.63 1468.0,1460.23 1508.29,1450.63" stroke="#777" stroke-width="0.6"/>
<polyline points="1428.57,1458.86 1468.0,1467.77 1507.43,1458.86" stroke="#777" stroke-width="0.6"/>
<polyline points="1429.43,1460.91 1468.0,1470.0 1506.57,1460.91" stroke="#777" stroke-width="0.6"/>
<polyline points="1428.57,1466.57 1468.0,1475.14 1507.43,1466.57" stroke="#777" stroke-width="0.6"/>
<polyline points="1535.71,1450.63 1576.0,1460.23 1616.29,1450.63" stroke="#777" stroke-width="0.6"/>
<polyline points="1536.57,1458.86 1576.0,1467.77 1615.43,1458.86" stroke="#777" stroke-width="0.6"/>
<polyline points="1537.43,1460.91 1576.0,1470.0 1614.57,1460.91" stroke="#777" stroke-width="0.6"/>
<polyline points="1536.57,1466.57 1576.0,1475.14 1615.43,1466.57" stroke="#777" stroke-width="0.6"/>
<polyline points="1643.71,1450.63 1684.0,1460.23 1724.29,1450.63" stroke="#777" stroke-width="0.6"/>
<polyline points="1644.57,1458.86 1684.0,1467.77 1723.43,1458.86" stroke="#777" stroke-width="0.6"/>
<polyline points="1645.43,1460.91 1684.0,1470.0 1722.57,1460.91" stroke="#777" stroke-width="0.6"/>
<polyline points="1644.57,1466.57 1684.0,1475.14 1723.43,1466.57" stroke="#777" stroke-width="0.6"/>
<polyline points="1288.34,1269.43 1324.86,1269.43" stroke="#4a4a4a" stroke-width="1.0" stroke-dasharray="4 3" stroke-opacity="0.5"/>
<polyline points="1433.71,1281.94 1476.23,1281.94" stroke="#4a4a4a" stroke-width="1.0" stroke-dasharray="4 3" stroke-opacity="0.5"/>
<polyline points="1414.86,1347.43 1514.29,1347.43" stroke="#4a4a4a" stroke-width="1.0" stroke-dasharray="4 3" stroke-opacity="0.5"/>
<polyline points="1522.0,1347.43 1617.14,1347.43" stroke="#4a4a4a" stroke-width="1.0" stroke-dasharray="4 3" stroke-opacity="0.5"/>
<polyline points="1561.43,1288.29 1600.0,1288.29" stroke="#4a4a4a" stroke-width="1.0" stroke-dasharray="4 3" stroke-opacity="0.5"/>
<path d="M1314.57,1315.2 L1342.51,1315.2 A27.94,27.94 0 0 1 1314.57,1343.14" stroke="#8a8a8a" stroke-width="1.0"/>
<path d="M1477.43,1278.0 L1452.57,1278.0 A24.86,24.86 0 0 1 1477.43,1253.14" stroke="#8a8a8a" stroke-width="1.0"/>
<path d="M1559.71,1278.0 L1584.57,1278.0 A24.86,24.86 0 0 0 1559.71,1253.14" stroke="#8a8a8a" stroke-width="1.0"/>
<path d="M1486.86,1281.43 H1510.86 V1306.29 H1479.66 V1288.63 Q1479.66,1281.43 1486.86,1281.43 Z" stroke="#777" stroke-width="1"/>
<path d="M1486.86,1282.97 H1509.31 V1304.74 H1481.2 V1288.63 Q1481.2,1282.97 1486.86,1282.97 Z" stroke="#777" stroke-width="1"/>
<circle cx="1506.4" cy="1302.17" r="1.1" stroke="#777" stroke-width="1"/>
<path d="M786.57,1281.94 H810.74 Q817.94,1281.94 817.94,1289.14 V1306.29 H786.57 Z" stroke="#777" stroke-width="1"/>
<path d="M788.11,1283.49 H810.74 Q816.4,1283.49 816.4,1289.14 V1304.74 H788.11 Z" stroke="#777" stroke-width="1"/>
<circle cx="791.03" cy="1302.17" r="1.1" stroke="#777" stroke-width="1"/>
<path d="M1526.63,1281.43 H1550.8 Q1558.0,1281.43 1558.0,1288.63 V1306.29 H1526.63 Z" stroke="#777" stroke-width="1"/>
<path d="M1528.17,1282.97 H1550.8 Q1556.46,1282.97 1556.46,1288.63 V1304.74 H1528.17 Z" stroke="#777" stroke-width="1"/>
<circle cx="1531.09" cy="1302.17" r="1.1" stroke="#777" stroke-width="1"/>
<polyline points="1872.91,1479.43 1858.86,1464.0" stroke="#999" stroke-width="0.6"/>
<polyline points="1856.63,1353.94 1856.63,1464.0 1819.43,1464.0" stroke="#999" stroke-width="0.8"/>
<polyline points="1858.86,1353.94 1858.86,1466.57 1751.71,1466.57" stroke="#999" stroke-width="0.8"/>
<polyline points="1818.57,1396.29 1818.57,1479.43" stroke="#999" stroke-width="0.8"/>
<polyline points="1751.71,1450.63 1804.86,1450.63 1804.86,1396.29" stroke="#4a4a4a" stroke-width="0.8"/>
<polyline points="1811.2,1427.14 1811.2,1460.57 1778.29,1460.57" stroke="#999" stroke-width="0.8"/>
<polyline points="1813.94,1427.14 1813.94,1458.86 1751.71,1458.86" stroke="#999" stroke-width="0.8"/>
<polyline points="1811.2,1427.14 1813.94,1427.14" stroke="#999" stroke-width="0.8"/>
<polyline points="1867.77,1344.0 1872.91,1344.0" stroke="#999" stroke-width="0.8"/>
<polyline points="1182.0,1479.4 1872.9,1479.4" stroke="#999" stroke-width="0.8"/>
<polyline points="1185.5,1476.3 1870.0,1476.3" stroke="#999" stroke-width="0.8"/>
<path d="M1690.0,1264.8 L1715.71,1264.8 A25.71,25.71 0 0 1 1690.0,1290.51" stroke="#8a8a8a" stroke-width="1.0"/>
<path d="M1812.4,1396.97 L1780.86,1396.97 A31.54,31.54 0 0 0 1812.4,1428.51" stroke="#8a8a8a" stroke-width="1.0"/>
<polyline points="1656.23,1242.86 1656.23,1302.86" stroke="#4a4a4a" stroke-width="0.8"/>
<polyline points="1691.71,1304.57 1731.14,1304.57" stroke="#4a4a4a" stroke-width="1.0" stroke-dasharray="4 3" stroke-opacity="0.5"/>
<polyline points="1113.1,668.2 1098.6,668.2 987.1,677.1 880.0,668.2 771.7,677.1 660.6,668.2 541.1,681.1 526.8,802.8 535.9,911.5 526.8,1018.8 526.8,1126.8 535.9,1235.1 526.8,1342.6 541.4,1464.9 660.6,1478.6 771.7,1470.0 880.0,1477.7 987.7,1470.0 1098.6,1477.7 1113.1,1478.6" stroke="#999" stroke-width="0.8"/>
<polyline points="1109.7,671.3 1098.6,671.3 987.1,680.2 880.0,671.3 771.7,680.2 660.6,671.3 544.0,684.6 529.7,802.8 538.3,911.5 529.7,1018.8 529.7,1126.8 538.3,1235.1 529.7,1342.6 545.7,1461.4 660.6,1474.3 771.7,1466.6 880.0,1474.3 987.7,1466.6 1098.6,1474.3 1110.0,1475.2" stroke="#999" stroke-width="0.8"/>
<polyline points="541.1,681.1 544.0,684.6" stroke="#999" stroke-width="0.6"/>
<polyline points="541.4,1464.9 545.7,1461.4" stroke="#999" stroke-width="0.6"/>
<polyline points="660.6,668.2 660.6,677.0" stroke="#999" stroke-width="0.7"/>
<polyline points="771.7,677.1 771.7,682.0" stroke="#999" stroke-width="0.7"/>
<polyline points="880.0,668.2 880.0,677.0" stroke="#999" stroke-width="0.7"/>
<polyline points="987.1,677.1 987.1,682.0" stroke="#999" stroke-width="0.7"/>
<polyline points="660.6,1478.6 660.6,1470.0" stroke="#999" stroke-width="0.7"/>
<polyline points="771.7,1470.0 771.7,1465.0" stroke="#999" stroke-width="0.7"/>
<polyline points="880.0,1477.7 880.0,1470.0" stroke="#999" stroke-width="0.7"/>
<polyline points="987.7,1470.0 987.7,1465.0" stroke="#999" stroke-width="0.7"/>
<polyline points="526.8,802.8 535.0,802.8" stroke="#999" stroke-width="0.7"/>
<polyline points="526.8,1018.8 535.0,1018.8" stroke="#999" stroke-width="0.7"/>
<polyline points="526.8,1126.8 535.0,1126.8" stroke="#999" stroke-width="0.7"/>
<polyline points="526.8,1342.6 535.0,1342.6" stroke="#999" stroke-width="0.7"/>
<polyline points="544.6,1461.0 544.6,686.3 1081.0,686.3" stroke="#999" stroke-width="0.8"/>
<polyline points="548.6,730.9 548.6,695.7 651.4,687.4" stroke="#999" stroke-width="0.8"/>
<polyline points="536.0,725.7 604.0,725.7" stroke="#999" stroke-width="0.8"/>
<polyline points="548.6,730.3 573.1,730.3 573.1,734.0" stroke="#999" stroke-width="0.8"/>
<polyline points="552.0,733.0 571.0,733.0" stroke="#999" stroke-width="0.8"/>
<polyline points="559.4,740.0 559.4,790.0" stroke="#4a4a4a" stroke-width="0.8"/>
<polyline points="549.7,740.0 549.7,790.0" stroke="#999" stroke-width="0.8"/>
<polyline points="553.2,740.0 553.2,790.0" stroke="#999" stroke-width="0.8"/>
<polyline points="559.4,816.5 559.4,898.0" stroke="#4a4a4a" stroke-width="0.8"/>
<polyline points="549.7,816.5 549.7,898.0" stroke="#999" stroke-width="0.8"/>
<polyline points="553.2,816.5 553.2,898.0" stroke="#999" stroke-width="0.8"/>
<polyline points="559.4,924.0 559.4,1006.0" stroke="#4a4a4a" stroke-width="0.8"/>
<polyline points="549.7,924.0 549.7,1006.0" stroke="#999" stroke-width="0.8"/>
<polyline points="553.2,924.0 553.2,1006.0" stroke="#999" stroke-width="0.8"/>
<polyline points="559.4,1032.6 559.4,1114.0" stroke="#4a4a4a" stroke-width="0.8"/>
<polyline points="549.7,1032.6 549.7,1114.0" stroke="#999" stroke-width="0.8"/>
<polyline points="553.2,1032.6 553.2,1114.0" stroke="#999" stroke-width="0.8"/>
<polyline points="559.4,1140.0 559.4,1222.0" stroke="#4a4a4a" stroke-width="0.8"/>
<polyline points="549.7,1140.0 549.7,1222.0" stroke="#999" stroke-width="0.8"/>
<polyline points="553.2,1140.0 553.2,1222.0" stroke="#999" stroke-width="0.8"/>
<polyline points="559.4,1248.5 559.4,1329.5" stroke="#4a4a4a" stroke-width="0.8"/>
<polyline points="549.7,1248.5 549.7,1329.5" stroke="#999" stroke-width="0.8"/>
<polyline points="553.2,1248.5 553.2,1329.5" stroke="#999" stroke-width="0.8"/>
<polyline points="559.4,1355.7 559.4,1407.4" stroke="#4a4a4a" stroke-width="0.8"/>
<polyline points="549.7,1355.7 549.7,1407.4" stroke="#999" stroke-width="0.8"/>
<polyline points="553.2,1355.7 553.2,1407.4" stroke="#999" stroke-width="0.8"/>
<polyline points="677.5,696.0 759.0,696.0" stroke="#999" stroke-width="0.8"/>
<polyline points="677.5,700.3 759.0,700.3" stroke="#4a4a4a" stroke-width="0.8"/>
<rect x="678.5" y="691.2" width="29.0" height="2.8" fill="none" stroke="#999" stroke-width="0.8"/>
<polyline points="707.5,692.6 759.0,692.6" stroke="#999" stroke-width="0.8"/>
<polyline points="785.5,696.0 867.0,696.0" stroke="#999" stroke-width="0.8"/>
<polyline points="785.5,700.3 867.0,700.3" stroke="#4a4a4a" stroke-width="0.8"/>
<rect x="786.5" y="691.2" width="29.0" height="2.8" fill="none" stroke="#999" stroke-width="0.8"/>
<polyline points="815.5,692.6 867.0,692.6" stroke="#999" stroke-width="0.8"/>
<polyline points="894.0,696.0 973.0,696.0" stroke="#999" stroke-width="0.8"/>
<polyline points="894.0,700.3 973.0,700.3" stroke="#4a4a4a" stroke-width="0.8"/>
<rect x="895.0" y="691.2" width="29.0" height="2.8" fill="none" stroke="#999" stroke-width="0.8"/>
<polyline points="924.0,692.6 973.0,692.6" stroke="#999" stroke-width="0.8"/>
<polyline points="1002.0,696.0 1081.0,696.0" stroke="#999" stroke-width="0.8"/>
<polyline points="1002.0,700.3 1081.0,700.3" stroke="#4a4a4a" stroke-width="0.8"/>
<rect x="1003.0" y="691.2" width="29.0" height="2.8" fill="none" stroke="#999" stroke-width="0.8"/>
<polyline points="1032.0,692.6 1081.0,692.6" stroke="#999" stroke-width="0.8"/>
</g>
<g fill="none" stroke="#777" stroke-width="1">
<use href="#stove" transform="translate(652.34,905.14) rotate(0) scale(1,1)"/>
<use href="#ksink" transform="translate(693.14,905.31) rotate(0) scale(1,1)"/>
<use href="#sink" transform="translate(766.86,861.77) rotate(0) scale(1,1)"/>
<use href="#toilet" transform="translate(786.06,905.49) rotate(90) scale(1,1)"/>
<use href="#toilet" transform="translate(849.14,866.23) rotate(90) scale(1,1)"/>
<use href="#sink" transform="translate(818.63,890.23) rotate(-90) scale(1,1)"/>
<use href="#washer" transform="translate(860.29,890.57) rotate(0) scale(1,1)"/>
<use href="#bath" transform="translate(840.4,912.86) rotate(0) scale(1,1)"/>
<use href="#toilet" transform="translate(901.43,849.94) rotate(-90) scale(1,1)"/>
<use href="#washer" transform="translate(889.94,873.43) rotate(0) scale(1,1)"/>
<use href="#sink" transform="translate(888.57,892.8) rotate(-90) scale(1,1)"/>
<use href="#bath" transform="translate(910.0,913.2) rotate(0) scale(1,1)"/>
<use href="#stove" transform="translate(1021.6,859.71) rotate(0) scale(1,1)"/>
<use href="#ksink" transform="translate(1063.77,859.89) rotate(0) scale(1,1)"/>
<use href="#bath" transform="translate(1381.94,858.34) rotate(180) scale(1,1)"/>
<use href="#sink" transform="translate(1403.37,881.14) rotate(90) scale(1,1)"/>
<use href="#washer" transform="translate(1401.66,904.29) rotate(0) scale(1,1)"/>
<use href="#toilet" transform="translate(1372.34,906.0) rotate(180) scale(1,1)"/>
<use href="#stove" transform="translate(1430.63,856.8) rotate(0) scale(1,1)"/>
<use href="#ksink" transform="translate(1450.51,876.51) rotate(0) scale(1,1)"/>
<use href="#washer" transform="translate(1430.8,918.86) rotate(0) scale(1.18,1)"/>
<use href="#stove" transform="translate(1275.49,918.0) rotate(0) scale(1,1)"/>
<use href="#ksink" transform="translate(1240.51,918.0) rotate(0) scale(1,1)"/>
<use href="#stove" transform="translate(1636.69,781.2) rotate(0) scale(1,1)"/>
<use href="#ksink" transform="translate(1655.71,820.29) rotate(0) scale(1,1)"/>
<use href="#bath" transform="translate(1642.0,860.57) rotate(90) scale(1,1)"/>
<use href="#sink" transform="translate(1668.23,839.49) rotate(0) scale(1,1)"/>
<use href="#washer" transform="translate(1669.43,881.14) rotate(90) scale(0.875,1.03)"/>
<use href="#toilet" transform="translate(1648.0,908.57) rotate(-90) scale(1,1)"/>
<use href="#sink" transform="translate(1676.63,920.23) rotate(180) scale(1,1)"/>
<use href="#toilet" transform="translate(1596.57,868.8) rotate(90) scale(1,1)"/>
<use href="#sink" transform="translate(1609.94,891.43) rotate(90) scale(1,1)"/>
<use href="#bath" transform="translate(1588.34,913.71) rotate(180) scale(1,1)"/>
<use href="#toilet" transform="translate(777.49,1035.43) rotate(0) scale(1,1)"/>
<use href="#washer" transform="translate(800.11,1026.34) rotate(90) scale(0.9,1.0)"/>
<use href="#sink" transform="translate(820.34,1024.63) rotate(0) scale(1,1)"/>
<use href="#bath" transform="translate(841.94,1046.57) rotate(90) scale(1,1)"/>
<use href="#stove" transform="translate(765.31,1184.06) rotate(0) scale(1,1)"/>
<use href="#ksink" transform="translate(765.31,1233.43) rotate(0) scale(1,1)"/>
<use href="#toilet" transform="translate(802.51,1229.66) rotate(0) scale(1,1)"/>
<use href="#bath" transform="translate(918.57,1223.49) rotate(0) scale(1,1)"/>
<use href="#sink" transform="translate(896.63,1244.91) rotate(-90) scale(1,1)"/>
<use href="#bath" transform="translate(1375.43,1224.0) rotate(180) scale(1,1)"/>
<use href="#sink" transform="translate(1396.86,1245.94) rotate(90) scale(1,1)"/>
<use href="#toilet" transform="translate(1494.23,1229.14) rotate(0) scale(1,1)"/>
<use href="#toilet" transform="translate(1542.91,1229.14) rotate(0) scale(1,1)"/>
<use href="#washer" transform="translate(1231.09,1215.77) rotate(0) scale(1.18,1)"/>
<use href="#toilet" transform="translate(1646.63,1081.2) rotate(-90) scale(1,1)"/>
<use href="#washer" transform="translate(1647.66,1110.86) rotate(90) scale(0.85,1.0)"/>
<use href="#sink" transform="translate(1671.49,1112.23) rotate(180) scale(1,1)"/>
<use href="#bath" transform="translate(1693.94,1090.29) rotate(-90) scale(1,1)"/>
<use href="#stove2" transform="translate(1718.97,1102.29) rotate(0) scale(1,1)"/>
<use href="#ksink" transform="translate(1738.34,1116.86) rotate(0) scale(1,1)"/>
<use href="#toilet" transform="translate(1651.09,1226.91) rotate(-90) scale(1,1)"/>
<use href="#sink" transform="translate(1679.71,1216.11) rotate(0) scale(1,1)"/>
<use href="#toilet" transform="translate(728.46,1266.51) rotate(0) scale(1,1)"/>
<use href="#sink" transform="translate(764.8,1288.8) rotate(90) scale(1,1)"/>
<use href="#bath" transform="translate(743.54,1313.14) rotate(180) scale(1,1)"/>
<use href="#sink" transform="translate(792.23,1266.86) rotate(-90) scale(1,1)"/>
<use href="#washer" transform="translate(869.71,1264.29) rotate(0) scale(1.18,1)"/>
<use href="#ksink" transform="translate(869.37,1295.31) rotate(0) scale(1,1)"/>
<use href="#stove2" transform="translate(869.37,1318.46) rotate(0) scale(1,1)"/>
<use href="#washer" transform="translate(756.23,1254.86) rotate(90) scale(0.85,1)"/>
<use href="#washer" transform="translate(898.51,1263.77) rotate(0) scale(1,1)"/>
<use href="#toilet" transform="translate(909.49,1286.91) rotate(-90) scale(1,1)"/>
<use href="#ksink" transform="translate(1023.14,1278.17) rotate(0) scale(1,1)"/>
<use href="#stove" transform="translate(1068.57,1277.83) rotate(0) scale(1,1)"/>
<use href="#stove" transform="translate(1222.34,1279.54) rotate(0) scale(1,1)"/>
<use href="#toilet" transform="translate(1384.34,1267.71) rotate(90) scale(1,1)"/>
<use href="#washer" transform="translate(1424.29,1260.51) rotate(0) scale(1.18,1)"/>
<use href="#ksink" transform="translate(1424.46,1293.43) rotate(0) scale(1,1)"/>
<use href="#stove2" transform="translate(1424.29,1317.77) rotate(0) scale(1,1)"/>
<use href="#sink" transform="translate(1504.86,1266.51) rotate(90) scale(1,1)"/>
<use href="#sink" transform="translate(1533.49,1266.51) rotate(-90) scale(1,1)"/>
<use href="#ksink" transform="translate(1241.71,1261.2) rotate(0) scale(1,1)"/>
<use href="#bath" transform="translate(1644.91,1275.09) rotate(-90) scale(1,1)"/>
<use href="#sink" transform="translate(1671.49,1297.2) rotate(180) scale(1,1)"/>
<use href="#ksink" transform="translate(1659.49,1316.06) rotate(180) scale(1,1)"/>
<use href="#stove" transform="translate(1640.11,1335.43) rotate(0) scale(1,1)"/>
<use href="#ksink" transform="translate(1613.2,1285.71) rotate(0) scale(1,1)"/>
<use href="#stove2" transform="translate(1613.2,1309.89) rotate(0) scale(1,1)"/>
<use href="#washer" transform="translate(1613.2,1253.49) rotate(0) scale(1.18,1)"/>
<use href="#washer" transform="translate(1673.03,1254.86) rotate(0) scale(1.18,1)"/>
</g>
<path fill="#000" fill-rule="nonzero" d="M651.14,687.09 L660.91,677.14 L679.09,684.86 L679.09,691.2 L677.37,691.2 L677.37,700.29 L675.66,700.29 L675.66,752.57 L668.8,752.57 L668.8,740.23 L605.2,740.23 L605.2,731.14 L603.66,731.14 L603.66,723.77 L618.23,716.06 L633.14,723.77 L633.14,725.66 L661.09,725.66 L661.09,702.51 L658.86,702.51Z M668.8,752.57 L671.89,752.57 L671.89,816.86 L668.8,816.86Z M668.8,813.77 L720.57,813.77 L720.57,816.86 L668.8,816.86Z M748.86,813.77 L774.23,813.77 L774.23,816.86 L748.86,816.86Z M771.14,701.14 L774.23,701.14 L774.23,816.86 L771.14,816.86Z M757.43,686.06 L771.66,681.94 L786.91,686.06 L786.91,691.71 L785.37,691.71 L785.37,701.14 L759.14,701.14 L759.14,691.71 L757.43,691.71Z M535.09,803.31 L543.14,789.43 L550.0,789.43 L550.0,791.14 L559.43,791.14 L559.43,816.34 L550.0,816.34 L550.0,818.06 L543.14,818.06Z M538.51,911.14 L543.14,897.43 L550.0,897.43 L550.0,898.63 L559.43,898.63 L559.43,924.0 L550.0,924.0 L550.0,926.06 L543.14,926.06Z M559.43,914.91 L631.77,914.91 L631.77,921.77 L559.43,921.77Z M631.77,914.91 L714.57,914.91 L714.57,917.66 L631.77,917.66Z M703.09,895.71 L714.91,895.71 L714.91,897.77 L703.09,897.77Z M703.09,895.71 L705.14,895.71 L705.14,917.66 L703.09,917.66Z M712.86,895.71 L714.91,895.71 L714.91,924.0 L712.86,924.0Z M711.66,954.0 L714.91,954.0 L714.91,961.71 L711.66,961.71Z M752.8,849.94 L813.14,849.94 L813.14,854.57 L752.8,854.57Z M752.8,847.71 L756.23,847.71 L756.23,881.14 L752.8,881.14Z M752.8,906.0 L756.23,906.0 L756.23,928.8 L752.8,928.8Z M752.8,924.86 L811.43,924.86 L811.43,928.8 L752.8,928.8Z M804.91,854.57 L811.43,854.57 L811.43,928.8 L804.91,928.8Z M795.66,889.71 L804.91,889.71 L804.91,891.43 L795.66,891.43Z M795.66,889.71 L797.37,889.71 L797.37,924.86 L795.66,924.86Z M840.23,849.94 L871.43,849.94 L871.43,854.57 L840.23,854.57Z M858.57,854.57 L860.29,854.57 L860.29,878.57 L858.57,878.57Z M858.57,876.86 L871.43,876.86 L871.43,878.57 L858.57,878.57Z M771.14,928.8 L881.71,928.8 L881.71,935.14 L771.14,935.14Z M771.14,934.29 L777.66,934.29 L777.66,951.43 L771.14,951.43Z M842.29,934.29 L844.34,934.29 L844.34,945.94 L842.29,945.94Z M842.29,943.89 L873.14,943.89 L873.14,945.94 L842.29,945.94Z M871.09,934.29 L873.14,934.29 L873.14,945.94 L871.09,945.94Z M864.57,687.43 L879.31,677.14 L894.23,685.71 L894.23,691.71 L892.86,691.71 L892.86,701.14 L866.29,701.14 L866.29,691.71 L864.57,691.71Z M871.26,701.14 L878.29,701.14 L878.29,831.43 L871.26,831.43Z M871.26,830.57 L882.4,830.57 L882.4,934.29 L871.26,934.29Z M972.91,686.06 L987.14,681.94 L1002.23,686.06 L1002.23,691.71 L1000.86,691.71 L1000.86,701.14 L974.29,701.14 L974.29,691.71 L972.91,691.71Z M975.66,701.14 L978.57,701.14 L978.57,768.0 L975.66,768.0Z M975.66,795.94 L978.57,795.94 L978.57,800.91 L975.66,800.91Z M939.14,799.2 L978.57,799.2 L978.57,801.43 L939.14,801.43Z M939.14,799.2 L941.37,799.2 L941.37,874.29 L939.14,874.29Z M935.2,830.57 L941.37,830.57 L941.37,836.57 L935.2,836.57Z M939.14,869.49 L960.57,869.49 L960.57,872.06 L939.14,872.06Z M1003.77,869.49 L1024.0,869.49 L1024.0,872.06 L1003.77,872.06Z M1080.91,685.71 L1098.57,676.8 L1108.86,686.57 L1099.43,701.14 L1099.43,755.14 L1113.14,762.86 L1113.14,785.14 L1096.86,785.14 L1096.86,882.0 L1035.66,882.0 L1035.66,921.43 L1042.0,921.43 L1042.0,934.29 L985.43,934.29 L985.43,928.29 L1023.66,928.29 L1023.66,872.06 L1083.14,872.06 L1083.14,701.14 L1082.29,701.14 L1082.29,691.71 L1080.91,691.71Z M1073.71,850.29 L1084.0,850.29 L1084.0,852.0 L1073.71,852.0Z M1073.71,850.29 L1075.94,850.29 L1075.94,872.06 L1073.71,872.06Z M1186.86,681.43 L1196.29,671.66 L1212.57,680.57 L1212.57,927.43 L1241.71,927.43 L1241.71,934.29 L1068.57,934.29 L1068.57,921.43 L1198.86,921.43 L1198.86,785.14 L1182.06,785.14 L1182.06,762.86 L1196.29,755.14 L1196.29,696.86Z M1081.09,934.29 L1087.43,934.29 L1087.43,961.71 L1081.09,961.71Z M1144.69,934.29 L1150.86,934.29 L1150.86,961.71 L1144.69,961.71Z M1207.94,934.29 L1214.29,934.29 L1214.29,961.71 L1207.94,961.71Z M882.4,830.57 L909.14,830.57 L909.14,836.57 L882.4,836.57Z M889.94,836.57 L891.66,836.57 L891.66,860.57 L889.94,860.57Z M882.4,858.86 L891.66,858.86 L891.66,860.57 L882.4,860.57Z M937.94,900.0 L940.86,900.0 L940.86,929.14 L937.94,929.14Z M880.0,928.29 L951.66,928.29 L951.66,934.29 L880.0,934.29Z M1212.57,918.34 L1229.71,918.34 L1229.71,920.4 L1212.57,920.4Z M1227.66,918.34 L1229.71,918.34 L1229.71,928.29 L1227.66,928.29Z M1291.43,680.23 L1306.0,671.66 L1320.57,680.23 L1320.57,688.29 L1319.71,688.29 L1319.71,696.0 L1292.29,696.0 L1292.29,688.29 L1291.43,688.29Z M1399.43,680.23 L1414.0,671.66 L1428.57,680.23 L1428.57,688.29 L1427.71,688.29 L1427.71,696.0 L1400.29,696.0 L1400.29,688.29 L1399.43,688.29Z M1507.43,680.23 L1522.0,671.66 L1536.57,680.23 L1536.57,688.29 L1535.71,688.29 L1535.71,696.0 L1508.29,696.0 L1508.29,688.29 L1507.43,688.29Z M1311.14,696.0 L1314.23,696.0 L1314.23,846.0 L1311.14,846.0Z M1311.14,843.43 L1318.51,843.43 L1318.51,846.0 L1311.14,846.0Z M1413.66,696.0 L1420.51,696.0 L1420.51,934.29 L1413.66,934.29Z M1409.71,843.43 L1420.51,843.43 L1420.51,934.29 L1409.71,934.29Z M1528.34,696.0 L1531.43,696.0 L1531.43,818.57 L1528.34,818.57Z M1528.34,846.0 L1531.43,846.0 L1531.43,869.14 L1528.34,869.14Z M1528.34,849.94 L1562.29,849.94 L1562.29,854.57 L1528.34,854.57Z M1588.0,849.94 L1601.71,849.94 L1601.71,854.57 L1588.0,854.57Z M1349.71,843.09 L1413.66,843.09 L1413.66,846.51 L1349.71,846.51Z M1349.71,843.09 L1354.0,843.09 L1354.0,870.51 L1349.71,870.51Z M1349.71,896.57 L1354.0,896.57 L1354.0,934.29 L1349.71,934.29Z M1348.86,928.29 L1508.29,928.29 L1508.29,934.29 L1348.86,934.29Z M1390.51,915.43 L1409.71,915.43 L1409.71,917.49 L1390.51,917.49Z M1390.51,915.43 L1392.57,915.43 L1392.57,928.29 L1390.51,928.29Z M1238.29,928.29 L1315.43,928.29 L1315.43,934.29 L1238.29,934.29Z M1243.77,934.29 L1246.86,934.29 L1246.86,943.71 L1243.77,943.71Z M1291.77,882.51 L1314.06,882.51 L1314.06,884.91 L1291.77,884.91Z M1291.77,882.51 L1294.51,882.51 L1294.51,928.29 L1291.77,928.29Z M1420.51,885.94 L1497.14,885.94 L1497.14,888.34 L1420.51,888.34Z M1495.43,867.09 L1498.17,867.09 L1498.17,904.29 L1495.43,904.29Z M1428.57,888.34 L1430.8,888.34 L1430.8,904.29 L1428.57,904.29Z M1420.51,902.06 L1430.8,902.06 L1430.8,904.29 L1420.51,904.29Z M1556.29,854.57 L1560.57,854.57 L1560.57,874.29 L1556.29,874.29Z M1556.29,900.86 L1560.57,900.86 L1560.57,934.29 L1556.29,934.29Z M1541.71,928.29 L1601.71,928.29 L1601.71,934.29 L1541.71,934.29Z M1214.29,943.37 L1226.97,943.37 L1226.97,946.11 L1214.29,946.11Z M1214.29,934.29 L1216.34,934.29 L1216.34,946.11 L1214.29,946.11Z M1615.09,680.23 L1629.66,671.66 L1644.23,680.23 L1644.23,688.29 L1643.37,688.29 L1643.37,696.0 L1615.94,696.0 L1615.94,688.29 L1615.09,688.29Z M1722.91,680.23 L1737.49,671.66 L1752.06,680.23 L1752.06,688.29 L1751.2,688.29 L1751.2,696.0 L1723.77,696.0 L1723.77,688.29 L1722.91,688.29Z M1619.71,696.0 L1626.57,696.0 L1626.57,831.43 L1619.71,831.43Z M1619.71,830.57 L1630.51,830.57 L1630.51,890.57 L1619.71,890.57Z M1616.29,850.29 L1629.14,850.29 L1629.14,934.29 L1616.29,934.29Z M1626.57,830.23 L1688.8,830.23 L1688.8,832.8 L1626.57,832.8Z M1685.71,810.0 L1688.8,810.0 L1688.8,846.86 L1685.71,846.86Z M1685.71,872.57 L1688.8,872.57 L1688.8,894.86 L1685.71,894.86Z M1685.71,920.57 L1688.8,920.57 L1688.8,934.29 L1685.71,934.29Z M1630.51,888.0 L1688.8,888.0 L1688.8,893.14 L1630.51,893.14Z M1598.29,924.86 L1688.8,924.86 L1688.8,934.29 L1598.29,934.29Z M1682.29,934.29 L1688.8,934.29 L1688.8,951.43 L1682.29,951.43Z M1636.34,893.14 L1638.57,893.14 L1638.57,924.86 L1636.34,924.86Z M1598.29,849.94 L1619.71,849.94 L1619.71,855.09 L1598.29,855.09Z M1606.51,855.09 L1608.57,855.09 L1608.57,880.29 L1606.51,880.29Z M1606.51,878.06 L1616.29,878.06 L1616.29,880.29 L1606.51,880.29Z M1728.23,810.51 L1731.14,810.51 L1731.14,817.37 L1728.23,817.37Z M1728.23,844.8 L1731.14,844.8 L1731.14,924.0 L1728.23,924.0Z M1728.23,951.43 L1731.14,951.43 L1731.14,961.71 L1728.23,961.71Z M1728.23,810.51 L1805.71,810.51 L1805.71,813.43 L1728.23,813.43Z M1804.86,751.2 L1819.43,750.86 L1828.86,764.57 L1820.29,779.14 L1819.43,779.14 L1819.43,801.94 L1841.71,801.94 L1841.71,800.91 L1857.14,792.51 L1867.77,802.29 L1859.2,818.57 L1843.43,817.37 L1791.66,817.37 L1791.66,810.51 L1804.86,810.51Z M1731.14,909.94 L1843.43,909.94 L1843.43,912.51 L1731.14,912.51Z M1843.43,898.29 L1853.37,898.29 L1853.37,897.09 L1858.86,897.09 L1867.77,911.14 L1858.86,926.06 L1853.37,926.06 L1853.37,924.86 L1843.43,924.86Z M711.66,953.14 L714.91,953.14 L714.91,1008.86 L711.66,1008.86Z M771.14,984.86 L777.66,984.86 L777.66,1008.86 L771.14,1008.86Z M559.43,1008.0 L860.29,1008.0 L860.29,1015.2 L559.43,1015.2Z M535.09,1019.49 L543.14,1004.91 L550.0,1004.91 L550.0,1006.29 L559.43,1006.29 L559.43,1032.34 L550.0,1032.34 L550.0,1034.06 L543.14,1034.06Z M535.09,1127.14 L543.14,1112.57 L550.0,1112.57 L550.0,1113.94 L559.43,1113.94 L559.43,1140.0 L550.0,1140.0 L550.0,1141.71 L543.14,1141.71Z M538.51,1235.49 L543.14,1220.91 L550.0,1220.91 L550.0,1222.29 L559.43,1222.29 L559.43,1248.34 L550.0,1248.34 L550.0,1250.06 L543.14,1250.06Z M559.43,1123.71 L631.43,1123.71 L631.43,1130.91 L559.43,1130.91Z M631.43,1123.71 L706.86,1123.71 L706.86,1126.29 L631.43,1126.29Z M736.0,1123.71 L775.43,1123.71 L775.43,1130.91 L736.0,1130.91Z M684.23,1075.2 L687.14,1075.2 L687.14,1124.57 L684.23,1124.57Z M684.23,1075.2 L719.71,1075.2 L719.71,1077.94 L684.23,1077.94Z M747.14,1074.51 L853.6,1074.51 L853.6,1077.94 L747.14,1077.94Z M760.86,1015.2 L765.14,1015.2 L765.14,1045.2 L760.86,1045.2Z M760.86,1070.57 L765.14,1070.57 L765.14,1075.2 L760.86,1075.2Z M760.86,1014.86 L853.6,1014.86 L853.6,1018.63 L760.86,1018.63Z M765.14,1023.6 L789.66,1023.6 L789.66,1026.34 L765.14,1026.34Z M787.43,1018.63 L789.66,1018.63 L789.66,1026.34 L787.43,1026.34Z M858.57,996.86 L881.71,996.86 L881.71,999.43 L864.23,999.43 L864.23,1085.14 L844.86,1085.14 L844.86,1137.43 L881.71,1137.43 L881.71,1140.0 L838.51,1140.0 L838.51,1077.94 L853.43,1077.94 L853.43,1015.2 L858.57,1015.2Z M832.0,1117.71 L838.51,1117.71 L838.51,1123.71 L832.0,1123.71Z M775.43,1117.71 L781.94,1117.71 L781.94,1261.71 L775.43,1261.71Z M775.43,1117.71 L798.57,1117.71 L798.57,1123.71 L775.43,1123.71Z M781.94,1202.57 L823.09,1202.57 L823.09,1208.91 L781.94,1208.91Z M857.37,1202.57 L881.71,1202.57 L881.71,1208.91 L857.37,1208.91Z M819.14,1208.91 L821.71,1208.91 L821.71,1254.0 L819.14,1254.0Z M785.37,1217.14 L819.14,1217.14 L819.14,1219.89 L785.37,1219.89Z M559.43,1238.57 L631.43,1238.57 L631.43,1245.43 L559.43,1245.43Z M631.43,1242.86 L676.0,1242.86 L676.0,1245.43 L631.43,1245.43Z M673.43,1242.86 L676.0,1242.86 L676.0,1261.71 L673.43,1261.71Z M712.0,1242.86 L775.43,1242.86 L775.43,1245.94 L712.0,1245.94Z M712.0,1242.86 L715.94,1242.86 L715.94,1261.71 L712.0,1261.71Z M878.29,996.86 L1028.29,996.86 L1028.29,999.43 L878.29,999.43Z M1025.71,996.86 L1028.29,996.86 L1028.29,1020.86 L1025.71,1020.86Z M988.86,996.86 L995.71,996.86 L995.71,1140.0 L988.86,1140.0Z M995.37,1020.0 L1033.43,1020.0 L1033.43,1026.51 L995.37,1026.51Z M995.37,1106.23 L1030.86,1106.23 L1030.86,1112.91 L995.37,1112.91Z M1024.51,1112.91 L1030.86,1112.91 L1030.86,1124.23 L1024.51,1124.23Z M1030.86,1119.09 L1033.43,1119.09 L1033.43,1124.23 L1030.86,1124.23Z M1024.51,1112.91 L1026.91,1112.91 L1026.91,1140.0 L1024.51,1140.0Z M878.29,1137.43 L1026.91,1137.43 L1026.91,1140.0 L878.29,1140.0Z M1081.09,951.43 L1087.43,951.43 L1087.43,1020.86 L1081.09,1020.86Z M1144.69,951.43 L1150.86,951.43 L1150.86,1020.86 L1144.69,1020.86Z M1207.94,951.43 L1214.29,951.43 L1214.29,1020.86 L1207.94,1020.86Z M1069.43,1020.0 L1095.14,1020.0 L1095.14,1026.51 L1069.43,1026.51Z M1129.94,1020.0 L1158.57,1020.0 L1158.57,1026.51 L1129.94,1026.51Z M1192.86,1020.0 L1234.0,1020.0 L1234.0,1026.51 L1192.86,1026.51Z M1214.29,996.0 L1228.86,996.0 L1228.86,998.57 L1214.29,998.57Z M1226.63,996.0 L1228.86,996.0 L1228.86,1020.0 L1226.63,1020.0Z M1069.43,1118.06 L1095.14,1118.06 L1095.14,1124.23 L1069.43,1124.23Z M1129.94,1118.06 L1165.43,1118.06 L1165.43,1124.23 L1129.94,1124.23Z M1200.23,1118.06 L1241.71,1118.06 L1241.71,1124.23 L1200.23,1124.23Z M1081.09,1124.23 L1087.43,1124.23 L1087.43,1212.0 L1081.09,1212.0Z M1144.69,1124.23 L1150.86,1124.23 L1150.86,1212.0 L1144.69,1212.0Z M1207.94,1124.23 L1214.29,1124.23 L1214.29,1217.14 L1207.94,1217.14Z M1075.09,1211.14 L1214.29,1211.14 L1214.29,1223.14 L1075.09,1223.14Z M1071.66,1202.57 L1075.43,1202.57 L1075.43,1214.57 L1071.66,1214.57Z M1198.51,1223.14 L1211.71,1223.14 L1211.71,1261.71 L1198.51,1261.71Z M1214.29,1133.14 L1241.71,1133.14 L1241.71,1135.71 L1214.29,1135.71Z M1214.29,1201.37 L1241.71,1201.37 L1241.71,1206.86 L1214.29,1206.86Z M878.29,1202.57 L964.0,1202.57 L964.0,1208.91 L878.29,1208.91Z M997.43,1202.57 L1045.94,1202.57 L1045.94,1208.91 L997.43,1208.91Z M1032.23,1208.91 L1044.57,1208.91 L1044.57,1261.71 L1032.23,1261.71Z M1044.57,1202.57 L1045.94,1202.57 L1045.94,1214.57 L1044.57,1214.57Z M878.8,1208.91 L889.94,1208.91 L889.94,1261.71 L878.8,1261.71Z M946.0,1208.91 L948.91,1208.91 L948.91,1236.86 L946.0,1236.86Z M1275.14,995.66 L1601.71,995.66 L1601.71,998.23 L1275.14,998.23Z M1275.14,995.66 L1277.71,995.66 L1277.71,1020.34 L1275.14,1020.34Z M1401.49,998.23 L1404.23,998.23 L1404.23,1019.14 L1401.49,1019.14Z M1436.8,998.23 L1439.37,998.23 L1439.37,1019.14 L1436.8,1019.14Z M1488.57,998.23 L1491.14,998.23 L1491.14,1019.14 L1488.57,1019.14Z M1518.57,995.66 L1521.49,995.66 L1521.49,1019.14 L1518.57,1019.14Z M1337.71,1018.8 L1521.14,1018.8 L1521.14,1025.66 L1337.71,1025.66Z M1270.0,1020.0 L1343.71,1020.0 L1343.71,1026.51 L1270.0,1026.51Z M1337.71,1025.66 L1343.71,1025.66 L1343.71,1033.71 L1337.71,1033.71Z M1515.14,1018.8 L1521.14,1018.8 L1521.14,1117.71 L1515.14,1117.71Z M1337.71,1111.71 L1521.14,1111.71 L1521.14,1117.71 L1337.71,1117.71Z M1337.71,1069.71 L1343.71,1069.71 L1343.71,1117.71 L1337.71,1117.71Z M1309.43,1082.57 L1343.71,1082.57 L1343.71,1088.91 L1309.43,1088.91Z M1309.43,1082.57 L1315.43,1082.57 L1315.43,1124.57 L1309.43,1124.57Z M1305.66,1118.06 L1313.71,1118.06 L1313.71,1124.23 L1305.66,1124.23Z M1312.86,1124.23 L1315.77,1124.23 L1315.77,1141.2 L1312.86,1141.2Z M1312.86,1138.29 L1601.71,1138.29 L1601.71,1141.2 L1312.86,1141.2Z M1238.29,1118.06 L1269.49,1118.06 L1269.49,1124.23 L1238.29,1124.23Z M1238.29,1133.14 L1267.43,1133.14 L1267.43,1135.71 L1238.29,1135.71Z M1264.86,1124.23 L1267.43,1124.23 L1267.43,1135.71 L1264.86,1135.71Z M1243.09,1124.23 L1245.66,1124.23 L1245.66,1135.71 L1243.09,1135.71Z M1238.29,1201.71 L1293.49,1201.71 L1293.49,1208.06 L1238.29,1208.06Z M1327.09,1201.71 L1437.14,1201.71 L1437.14,1208.06 L1327.09,1208.06Z M1471.09,1201.71 L1565.71,1201.71 L1565.71,1208.06 L1471.09,1208.06Z M1402.86,1208.06 L1414.86,1208.06 L1414.86,1261.71 L1402.86,1261.71Z M1344.57,1208.06 L1347.66,1208.06 L1347.66,1236.86 L1344.57,1236.86Z M1476.23,1208.06 L1478.8,1208.06 L1478.8,1253.14 L1476.23,1253.14Z M1478.8,1216.63 L1511.71,1216.63 L1511.71,1218.86 L1478.8,1218.86Z M1511.71,1208.06 L1525.94,1208.06 L1525.94,1261.71 L1511.71,1261.71Z M1525.43,1216.63 L1559.71,1216.63 L1559.71,1218.86 L1525.43,1218.86Z M1558.51,1208.06 L1561.43,1208.06 L1561.43,1253.14 L1558.51,1253.14Z M1285.43,1235.14 L1288.34,1235.14 L1288.34,1261.71 L1285.43,1261.71Z M1212.57,1248.0 L1286.29,1248.0 L1286.29,1250.57 L1212.57,1250.57Z M1219.43,1208.06 L1221.66,1208.06 L1221.66,1249.71 L1219.43,1249.71Z M1393.43,1254.51 L1402.86,1254.51 L1402.86,1256.57 L1393.43,1256.57Z M1393.43,1254.51 L1395.49,1254.51 L1395.49,1261.71 L1393.43,1261.71Z M1728.23,951.43 L1731.14,951.43 L1731.14,1009.71 L1728.23,1009.71Z M1682.29,985.37 L1688.8,985.37 L1688.8,1019.14 L1682.29,1019.14Z M1686.57,1019.14 L1688.8,1019.14 L1688.8,1028.57 L1686.57,1028.57Z M1663.77,1013.14 L1688.8,1013.14 L1688.8,1019.14 L1663.77,1019.14Z M1687.43,1009.37 L1843.43,1009.37 L1843.43,1016.57 L1687.43,1016.57Z M1843.43,1005.94 L1853.37,1005.94 L1853.37,1004.91 L1858.86,1004.91 L1867.77,1019.14 L1858.86,1033.71 L1853.37,1033.71 L1853.37,1032.34 L1843.43,1032.34Z M1843.43,1113.94 L1853.37,1113.94 L1853.37,1112.91 L1858.86,1112.91 L1867.77,1127.14 L1858.86,1141.71 L1853.37,1141.71 L1853.37,1140.34 L1843.43,1140.34Z M1843.43,1221.94 L1853.37,1221.94 L1853.37,1220.91 L1858.86,1220.91 L1867.77,1235.14 L1858.86,1249.71 L1853.37,1249.71 L1853.37,1248.34 L1843.43,1248.34Z M1598.29,995.66 L1624.0,995.66 L1624.0,998.23 L1598.29,998.23Z M1618.0,995.66 L1624.0,995.66 L1624.0,1141.2 L1618.0,1141.2Z M1598.29,1138.29 L1624.0,1138.29 L1624.0,1141.2 L1598.29,1141.2Z M1624.0,1013.14 L1630.0,1013.14 L1630.0,1019.14 L1624.0,1019.14Z M1624.0,1059.09 L1656.23,1059.09 L1656.23,1062.86 L1624.0,1062.86Z M1681.43,1059.09 L1708.86,1059.09 L1708.86,1062.86 L1681.43,1062.86Z M1705.43,1059.09 L1708.86,1059.09 L1708.86,1127.14 L1705.43,1127.14Z M1624.0,1118.57 L1708.86,1118.57 L1708.86,1128.86 L1624.0,1128.86Z M1624.0,1059.09 L1627.43,1059.09 L1627.43,1128.86 L1624.0,1128.86Z M1627.43,1098.0 L1637.71,1098.0 L1637.71,1100.91 L1627.43,1100.91Z M1635.14,1100.91 L1637.71,1100.91 L1637.71,1118.57 L1635.14,1118.57Z M1685.71,1127.14 L1843.43,1127.14 L1843.43,1134.0 L1685.71,1134.0Z M1685.71,1128.86 L1692.57,1128.86 L1692.57,1150.63 L1685.71,1150.63Z M1731.14,1134.0 L1733.71,1134.0 L1733.71,1196.57 L1731.14,1196.57Z M1685.71,1184.57 L1692.57,1184.57 L1692.57,1214.57 L1685.71,1214.57Z M1624.0,1202.06 L1692.57,1202.06 L1692.57,1210.29 L1624.0,1210.29Z M1605.14,1190.57 L1625.37,1190.57 L1625.37,1193.14 L1605.14,1193.14Z M1605.14,1190.57 L1608.23,1190.57 L1608.23,1202.06 L1605.14,1202.06Z M1623.14,1190.57 L1625.37,1190.57 L1625.37,1202.06 L1623.14,1202.06Z M1625.71,1210.29 L1632.57,1210.29 L1632.57,1261.71 L1625.71,1261.71Z M1639.09,1210.29 L1641.49,1210.29 L1641.49,1242.86 L1639.09,1242.86Z M1632.57,1242.51 L1690.0,1242.51 L1690.0,1248.0 L1632.57,1248.0Z M1688.8,1210.29 L1691.71,1210.29 L1691.71,1216.29 L1688.8,1216.29Z M1688.8,1241.14 L1691.71,1241.14 L1691.71,1261.71 L1688.8,1261.71Z M1733.71,1229.14 L1843.43,1229.14 L1843.43,1231.71 L1733.71,1231.71Z M1731.14,1225.37 L1733.71,1225.37 L1733.71,1234.29 L1731.14,1234.29Z M1599.14,1202.06 L1625.37,1202.06 L1625.37,1208.57 L1599.14,1208.57Z M535.09,1342.63 L543.14,1328.06 L550.0,1328.06 L550.0,1329.43 L559.43,1329.43 L559.43,1355.49 L550.0,1355.49 L550.0,1357.2 L543.14,1357.2Z M673.43,1242.86 L676.0,1242.86 L676.0,1267.71 L673.43,1267.71Z M673.43,1296.34 L676.0,1296.34 L676.0,1394.57 L673.43,1394.57Z M673.43,1304.23 L680.29,1304.23 L680.29,1307.14 L673.43,1307.14Z M605.71,1406.57 L668.8,1406.57 L668.8,1393.71 L676.0,1393.71 L676.0,1446.0 L677.37,1446.0 L677.37,1455.43 L679.09,1455.43 L679.09,1461.43 L660.91,1470.0 L651.14,1458.86 L660.91,1444.29 L660.91,1420.8 L633.14,1420.8 L633.14,1422.86 L618.23,1430.91 L603.66,1422.86 L603.66,1415.14 L605.71,1415.14Z M712.0,1242.86 L715.94,1242.86 L715.94,1273.71 L712.0,1273.71Z M711.66,1299.77 L715.94,1299.77 L715.94,1327.71 L711.66,1327.71Z M711.66,1323.09 L775.43,1323.09 L775.43,1327.71 L711.66,1327.71Z M708.57,1304.23 L712.0,1304.23 L712.0,1307.14 L708.57,1307.14Z M774.23,1242.86 L782.97,1242.86 L782.97,1446.86 L774.23,1446.86Z M779.71,1208.57 L786.06,1208.57 L786.06,1310.91 L779.71,1310.91Z M759.14,1446.0 L785.37,1446.0 L785.37,1455.43 L786.91,1455.43 L786.91,1460.57 L771.66,1464.86 L757.43,1460.57 L757.43,1455.43 L759.14,1455.43Z M782.97,1306.29 L821.71,1306.29 L821.71,1310.57 L782.97,1310.57Z M819.14,1279.71 L821.71,1279.71 L821.71,1310.57 L819.14,1310.57Z M859.94,1274.23 L881.71,1274.23 L881.71,1276.63 L859.94,1276.63Z M859.94,1282.29 L881.71,1282.29 L881.71,1284.51 L859.94,1284.51Z M859.94,1274.23 L862.34,1274.23 L862.34,1284.51 L859.94,1284.51Z M715.94,1252.29 L739.43,1252.29 L739.43,1254.34 L715.94,1254.34Z M737.37,1244.57 L739.43,1244.57 L739.43,1254.34 L737.37,1254.34Z M771.14,1242.86 L775.43,1242.86 L775.43,1327.71 L771.14,1327.71Z M878.8,1242.86 L887.71,1242.86 L887.71,1446.86 L878.8,1446.86Z M878.8,1242.86 L889.94,1242.86 L889.94,1304.91 L878.8,1304.91Z M889.94,1274.91 L900.06,1274.91 L900.06,1277.14 L889.94,1277.14Z M897.66,1274.91 L900.06,1274.91 L900.06,1301.14 L897.66,1301.14Z M887.71,1300.29 L917.71,1300.29 L917.71,1304.91 L887.71,1304.91Z M866.29,1446.0 L892.86,1446.0 L892.86,1455.43 L894.57,1455.43 L894.57,1460.91 L879.66,1470.0 L864.57,1460.91 L864.57,1455.43 L866.29,1455.43Z M946.0,1262.57 L948.91,1262.57 L948.91,1329.94 L946.0,1329.94Z M946.0,1265.14 L969.14,1265.14 L969.14,1268.23 L946.0,1268.23Z M1002.06,1265.14 L1015.43,1265.14 L1015.43,1268.23 L1002.06,1268.23Z M943.43,1300.29 L946.86,1300.29 L946.86,1304.91 L943.43,1304.91Z M946.86,1326.86 L978.57,1326.86 L978.57,1329.94 L946.86,1329.94Z M975.66,1326.86 L978.57,1326.86 L978.57,1336.29 L975.66,1336.29Z M975.66,1365.94 L978.57,1365.94 L978.57,1446.0 L975.66,1446.0Z M974.29,1446.0 L1000.86,1446.0 L1000.86,1455.43 L1002.23,1455.43 L1002.23,1460.57 L987.66,1464.86 L972.91,1460.57 L972.91,1455.43 L974.29,1455.43Z M1032.23,1258.29 L1096.86,1258.29 L1096.86,1268.23 L1032.23,1268.23Z M1012.86,1254.86 L1015.43,1254.86 L1015.43,1268.23 L1012.86,1268.23Z M1012.86,1265.14 L1032.57,1265.14 L1032.57,1268.23 L1012.86,1268.23Z M1012.86,1254.86 L1032.57,1254.86 L1032.57,1256.91 L1012.86,1256.91Z M1083.14,1268.23 L1096.86,1268.23 L1096.86,1362.0 L1113.14,1362.0 L1113.14,1383.43 L1099.43,1391.14 L1099.43,1444.29 L1108.86,1459.71 L1098.06,1470.0 L1080.91,1460.91 L1080.91,1455.43 L1082.29,1455.43 L1082.29,1446.0 L1083.14,1446.0Z M1198.86,1258.29 L1212.57,1258.29 L1212.57,1465.71 L1196.8,1474.63 L1186.86,1464.86 L1196.29,1449.43 L1196.29,1391.14 L1182.06,1383.43 L1182.06,1362.0 L1198.86,1362.0Z M1285.43,1258.29 L1288.34,1258.29 L1288.34,1269.43 L1285.43,1269.43Z M1324.86,1267.71 L1347.66,1267.71 L1347.66,1270.63 L1324.86,1270.63Z M1344.57,1261.71 L1347.66,1261.71 L1347.66,1312.8 L1344.57,1312.8Z M1344.57,1281.43 L1408.86,1281.43 L1408.86,1287.09 L1344.57,1287.09Z M1313.71,1309.71 L1347.66,1309.71 L1347.66,1312.8 L1313.71,1312.8Z M1313.71,1309.71 L1316.29,1309.71 L1316.29,1314.86 L1313.71,1314.86Z M1313.71,1341.94 L1316.63,1341.94 L1316.63,1452.0 L1313.71,1452.0Z M1393.77,1249.71 L1396.34,1249.71 L1396.34,1281.43 L1393.77,1281.43Z M1402.86,1258.29 L1414.86,1258.29 L1414.86,1287.43 L1402.86,1287.43Z M1407.14,1287.09 L1414.86,1287.09 L1414.86,1452.0 L1407.14,1452.0Z M1414.86,1271.66 L1433.71,1271.66 L1433.71,1274.57 L1414.86,1274.57Z M1431.14,1271.66 L1433.71,1271.66 L1433.71,1283.14 L1431.14,1283.14Z M1414.86,1280.23 L1433.71,1280.23 L1433.71,1283.14 L1414.86,1283.14Z M1292.29,1451.14 L1319.71,1451.14 L1319.71,1458.86 L1320.57,1458.86 L1320.57,1466.57 L1306.0,1475.14 L1291.43,1466.57 L1291.43,1458.86 L1292.29,1458.86Z M1400.29,1451.14 L1427.71,1451.14 L1427.71,1458.86 L1428.57,1458.86 L1428.57,1466.57 L1414.0,1475.14 L1399.43,1466.57 L1399.43,1458.86 L1400.29,1458.86Z M1508.29,1451.14 L1535.71,1451.14 L1535.71,1458.86 L1536.57,1458.86 L1536.57,1466.57 L1522.0,1475.14 L1507.43,1466.57 L1507.43,1458.86 L1508.29,1458.86Z M1476.23,1279.2 L1478.8,1279.2 L1478.8,1310.06 L1476.23,1310.06Z M1476.23,1307.14 L1516.34,1307.14 L1516.34,1310.06 L1476.23,1310.06Z M1512.23,1258.29 L1525.94,1258.29 L1525.94,1310.06 L1512.23,1310.06Z M1514.8,1310.06 L1522.0,1310.06 L1522.0,1452.0 L1514.8,1452.0Z M1558.51,1279.2 L1561.43,1279.2 L1561.43,1310.06 L1558.51,1310.06Z M1525.43,1307.14 L1561.43,1307.14 L1561.43,1310.06 L1525.43,1310.06Z M1625.03,1258.29 L1633.43,1258.29 L1633.43,1305.94 L1625.03,1305.94Z M1625.03,1305.94 L1630.0,1305.94 L1630.0,1452.0 L1625.03,1452.0Z M1630.0,1302.86 L1691.71,1302.86 L1691.71,1305.94 L1630.0,1305.94Z M1689.14,1289.14 L1691.71,1289.14 L1691.71,1305.94 L1689.14,1305.94Z M1689.14,1258.29 L1691.71,1258.29 L1691.71,1264.29 L1689.14,1264.29Z M1615.94,1451.14 L1643.37,1451.14 L1643.37,1458.86 L1644.23,1458.86 L1644.23,1466.57 L1629.66,1475.14 L1615.09,1466.57 L1615.09,1458.86 L1615.94,1458.86Z M1723.77,1451.14 L1751.2,1451.14 L1751.2,1458.86 L1752.06,1458.86 L1752.06,1466.57 L1737.49,1475.14 L1722.91,1466.57 L1722.91,1458.86 L1723.77,1458.86Z M1731.14,1260.0 L1733.71,1260.0 L1733.71,1336.29 L1731.14,1336.29Z M1731.14,1333.71 L1805.71,1333.71 L1805.71,1336.29 L1731.14,1336.29Z M1791.66,1329.43 L1843.43,1329.43 L1843.43,1328.23 L1859.2,1328.23 L1867.77,1344.0 L1857.14,1353.94 L1841.71,1345.71 L1841.71,1344.0 L1819.43,1344.0 L1819.43,1367.14 L1820.29,1367.14 L1828.86,1381.71 L1819.43,1396.29 L1804.86,1395.94 L1804.86,1336.29 L1791.66,1336.29Z M1603.94,1264.63 L1623.66,1264.63 L1623.66,1267.2 L1603.94,1267.2Z M1603.94,1273.2 L1623.66,1273.2 L1623.66,1275.77 L1603.94,1275.77Z M1603.94,1264.63 L1606.17,1264.63 L1606.17,1275.77 L1603.94,1275.77Z M1621.6,1264.63 L1623.66,1264.63 L1623.66,1275.77 L1621.6,1275.77Z"/>
<g opacity="0.999">
<text x="95.5" y="1898.6" font-size="83" font-weight="700" fill="#fc4c02" stroke="#fc4c02" stroke-width="2.5" textLength="205" lengthAdjust="spacingAndGlyphs">ПИК</text>
<text x="814.86" y="749.66" font-size="10.6" fill="#2a2a2a" text-anchor="middle" textLength="18.98" lengthAdjust="spacingAndGlyphs">74.8</text>
<text x="1029.14" y="749.14" font-size="10.6" fill="#2a2a2a" text-anchor="middle" textLength="18.98" lengthAdjust="spacingAndGlyphs">38.4</text>
<text x="1255.09" y="749.14" font-size="10.6" fill="#2a2a2a" text-anchor="middle" textLength="18.98" lengthAdjust="spacingAndGlyphs">42.3</text>
<text x="1471.09" y="749.14" font-size="10.6" fill="#2a2a2a" text-anchor="middle" textLength="18.98" lengthAdjust="spacingAndGlyphs">41.8</text>
<text x="1711.43" y="749.14" font-size="10.6" fill="#2a2a2a" text-anchor="middle" textLength="18.98" lengthAdjust="spacingAndGlyphs">54.4</text>
<text x="646.51" y="1186.63" font-size="10.6" fill="#2a2a2a" text-anchor="middle" textLength="18.98" lengthAdjust="spacingAndGlyphs">86.6</text>
<text x="1802.29" y="1074.0" font-size="10.6" fill="#2a2a2a" text-anchor="middle" textLength="18.98" lengthAdjust="spacingAndGlyphs">21.1</text>
<text x="826.86" y="1388.23" font-size="10.6" fill="#2a2a2a" text-anchor="middle" textLength="18.98" lengthAdjust="spacingAndGlyphs">20.5</text>
<text x="1032.23" y="1388.23" font-size="10.6" fill="#2a2a2a" text-anchor="middle" textLength="10.84" lengthAdjust="spacingAndGlyphs">39</text>
<text x="1259.71" y="1389.43" font-size="10.6" fill="#2a2a2a" text-anchor="middle" textLength="18.98" lengthAdjust="spacingAndGlyphs">42.6</text>
<text x="1465.94" y="1387.71" font-size="10.6" fill="#2a2a2a" text-anchor="middle" textLength="10.84" lengthAdjust="spacingAndGlyphs">22</text>
<text x="1570.0" y="1387.71" font-size="10.6" fill="#2a2a2a" text-anchor="middle" textLength="18.98" lengthAdjust="spacingAndGlyphs">22.1</text>
<text x="1698.06" y="1389.6" font-size="10.6" fill="#2a2a2a" text-anchor="middle" textLength="18.98" lengthAdjust="spacingAndGlyphs">54.6</text>
</g>
<rect x="1516" y="1202.3" width="109" height="277.5" fill="rgb(255,83,47)" fill-opacity="0.5"/>
</svg>
</body>
</html>
